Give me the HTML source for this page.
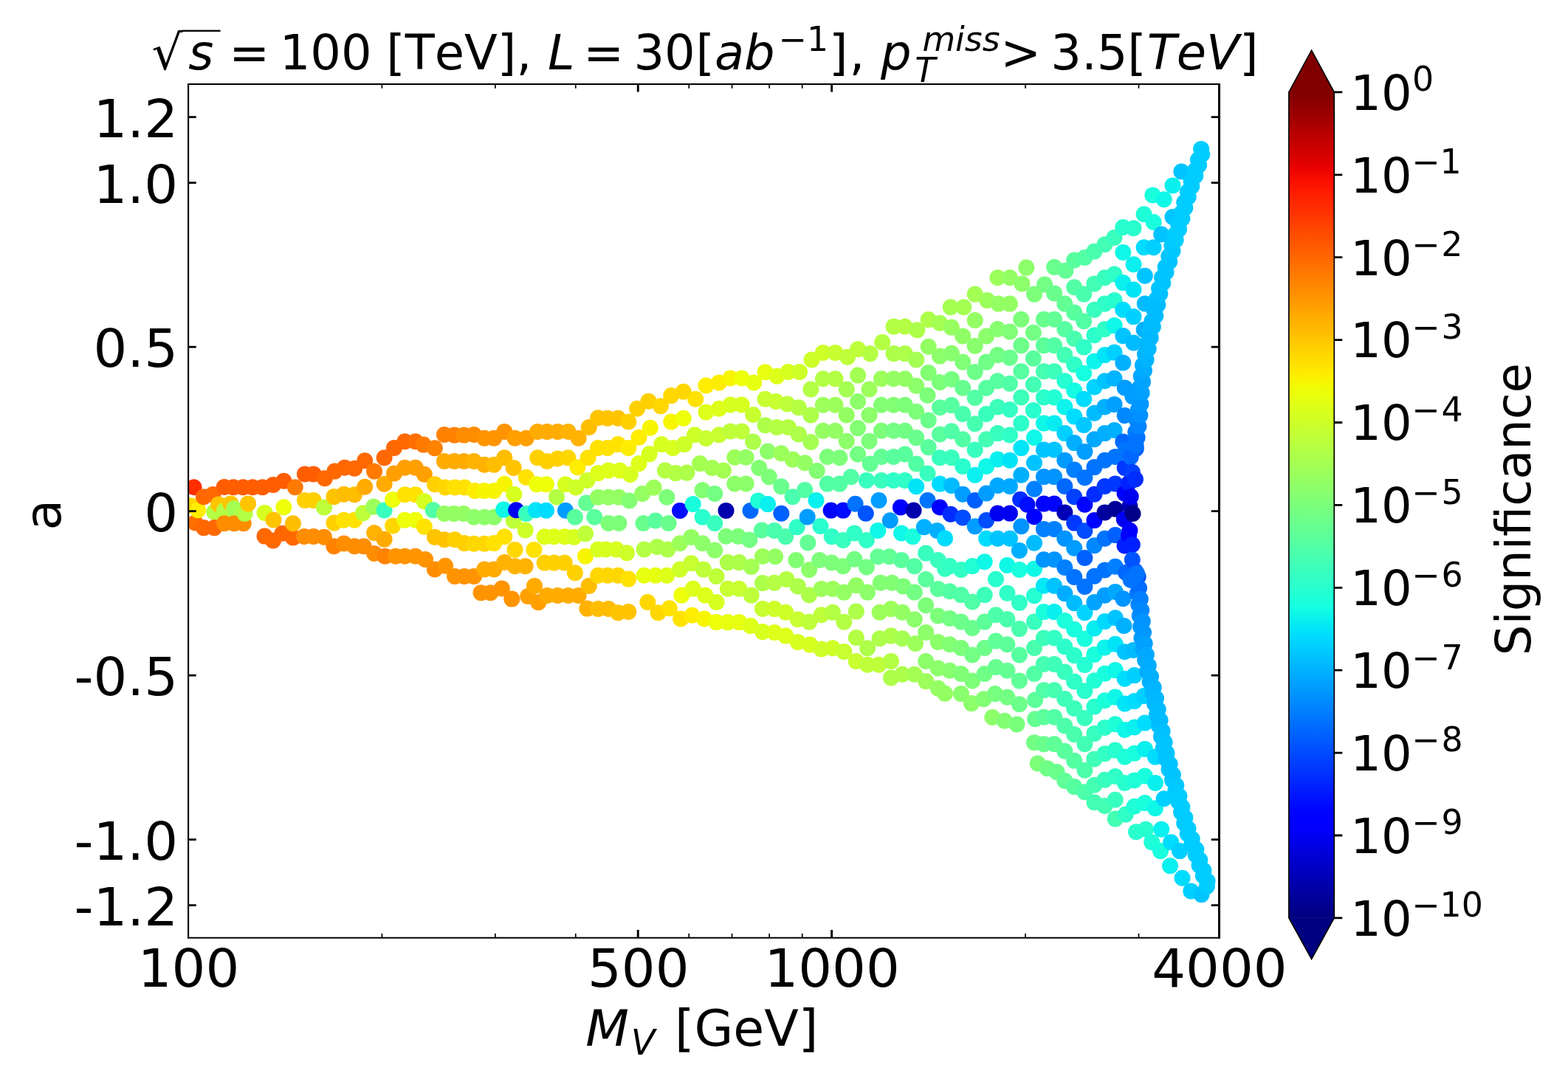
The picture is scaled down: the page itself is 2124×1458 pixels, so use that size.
<!DOCTYPE html>
<html lang="en"><head><meta charset="utf-8"><title>Significance scan</title>
<style>html,body{margin:0;padding:0;background:#fff;}body{width:2124px;height:1458px;overflow:hidden;}svg{display:block;}text{font-family:"DejaVu Sans","Liberation Sans",sans-serif;fill:#000;font-kerning:none;}.i{font-style:oblique;}</style>
</head><body>
<svg xmlns="http://www.w3.org/2000/svg" width="2124" height="1458" viewBox="0 0 2124 1458">
<rect width="2124" height="1458" fill="#fff"/>
<clipPath id="ac"><rect x="255.00" y="113.90" width="1396.40" height="1156.90"/></clipPath>
<g id="pts" clip-path="url(#ac)">
<circle cx="695.7" cy="705.4" r="11.0" fill="#beff39"/>
<circle cx="258.6" cy="685.3" r="11.0" fill="#ffd700"/>
<circle cx="262.5" cy="660.3" r="11.0" fill="#ff2d00"/>
<circle cx="264.4" cy="708.4" r="11.0" fill="#ff6f00"/>
<circle cx="268.2" cy="691.1" r="11.0" fill="#feed00"/>
<circle cx="275.9" cy="673.3" r="11.0" fill="#ff6800"/>
<circle cx="275.9" cy="715.1" r="11.0" fill="#ff6800"/>
<circle cx="288.4" cy="669.9" r="11.0" fill="#ff6800"/>
<circle cx="290.3" cy="693.9" r="11.0" fill="#b4ff43"/>
<circle cx="290.3" cy="715.1" r="11.0" fill="#ff6800"/>
<circle cx="296.1" cy="683.4" r="11.0" fill="#ffc400"/>
<circle cx="303.8" cy="692.0" r="11.0" fill="#b4ff43"/>
<circle cx="303.8" cy="659.9" r="11.0" fill="#ff5d00"/>
<circle cx="303.8" cy="709.3" r="11.0" fill="#ff8d00"/>
<circle cx="312.4" cy="682.4" r="11.0" fill="#ffc400"/>
<circle cx="316.3" cy="660.3" r="11.0" fill="#ff5d00"/>
<circle cx="317.2" cy="689.1" r="11.0" fill="#a4ff53"/>
<circle cx="317.2" cy="709.3" r="11.0" fill="#ff8d00"/>
<circle cx="329.2" cy="660.3" r="11.0" fill="#ff5d00"/>
<circle cx="329.7" cy="709.3" r="11.0" fill="#ff8d00"/>
<circle cx="331.6" cy="695.9" r="11.0" fill="#b4ff43"/>
<circle cx="342.2" cy="660.3" r="11.0" fill="#ff5d00"/>
<circle cx="355.6" cy="660.3" r="11.0" fill="#ff5d00"/>
<circle cx="358.5" cy="694.9" r="11.0" fill="#d7ff1f"/>
<circle cx="358.5" cy="726.6" r="11.0" fill="#ff6800"/>
<circle cx="370.0" cy="657.0" r="11.0" fill="#ff5d00"/>
<circle cx="370.0" cy="732.4" r="11.0" fill="#ff6800"/>
<circle cx="382.5" cy="722.8" r="11.0" fill="#ff6800"/>
<circle cx="384.4" cy="651.7" r="11.0" fill="#ff5d00"/>
<circle cx="384.4" cy="687.2" r="11.0" fill="#eeff09"/>
<circle cx="396.9" cy="728.5" r="11.0" fill="#ff6800"/>
<circle cx="396.9" cy="709.3" r="11.0" fill="#ffbd00"/>
<circle cx="399.8" cy="660.3" r="11.0" fill="#ff7a00"/>
<circle cx="412.1" cy="726.9" r="11.0" fill="#ff8d00"/>
<circle cx="413.0" cy="642.4" r="11.0" fill="#ff5d00"/>
<circle cx="413.0" cy="677.9" r="11.0" fill="#ffd000"/>
<circle cx="424.6" cy="642.4" r="11.0" fill="#ff5d00"/>
<circle cx="424.6" cy="677.9" r="11.0" fill="#ffd000"/>
<circle cx="424.6" cy="726.9" r="11.0" fill="#ff8d00"/>
<circle cx="439.0" cy="687.5" r="11.0" fill="#beff39"/>
<circle cx="439.0" cy="727.8" r="11.0" fill="#ff8d00"/>
<circle cx="439.9" cy="648.2" r="11.0" fill="#ff6800"/>
<circle cx="452.4" cy="673.1" r="11.0" fill="#ffc400"/>
<circle cx="452.4" cy="708.6" r="11.0" fill="#ffd000"/>
<circle cx="452.4" cy="740.3" r="11.0" fill="#ff8200"/>
<circle cx="453.4" cy="638.6" r="11.0" fill="#ff6800"/>
<circle cx="465.8" cy="669.8" r="11.0" fill="#ffbd00"/>
<circle cx="465.8" cy="704.8" r="11.0" fill="#ffe200"/>
<circle cx="465.8" cy="736.5" r="11.0" fill="#ff8d00"/>
<circle cx="466.8" cy="633.8" r="11.0" fill="#ff6800"/>
<circle cx="480.2" cy="634.7" r="11.0" fill="#ff6800"/>
<circle cx="480.2" cy="670.2" r="11.0" fill="#ffbd00"/>
<circle cx="480.2" cy="704.8" r="11.0" fill="#ffe200"/>
<circle cx="480.2" cy="740.3" r="11.0" fill="#ff8d00"/>
<circle cx="491.8" cy="695.2" r="11.0" fill="#beff39"/>
<circle cx="492.7" cy="740.3" r="11.0" fill="#ff8d00"/>
<circle cx="494.2" cy="624.2" r="11.0" fill="#ff6800"/>
<circle cx="494.2" cy="659.7" r="11.0" fill="#ffab00"/>
<circle cx="506.2" cy="686.6" r="11.0" fill="#9dff5a"/>
<circle cx="507.1" cy="638.6" r="11.0" fill="#ff7a00"/>
<circle cx="507.1" cy="722.1" r="11.0" fill="#ffb200"/>
<circle cx="507.1" cy="749.9" r="11.0" fill="#ff8d00"/>
<circle cx="520.6" cy="620.3" r="11.0" fill="#ff6800"/>
<circle cx="520.6" cy="655.8" r="11.0" fill="#ffab00"/>
<circle cx="520.6" cy="691.4" r="11.0" fill="#39ffbe"/>
<circle cx="520.6" cy="730.7" r="11.0" fill="#ffab00"/>
<circle cx="521.5" cy="753.8" r="11.0" fill="#ff8200"/>
<circle cx="532.1" cy="677.0" r="11.0" fill="#eeff09"/>
<circle cx="532.1" cy="712.5" r="11.0" fill="#ffd700"/>
<circle cx="534.0" cy="606.9" r="11.0" fill="#ff6800"/>
<circle cx="534.0" cy="641.4" r="11.0" fill="#ff9f00"/>
<circle cx="535.9" cy="753.8" r="11.0" fill="#ff9400"/>
<circle cx="548.4" cy="598.2" r="11.0" fill="#ff6800"/>
<circle cx="548.4" cy="633.8" r="11.0" fill="#ff9f00"/>
<circle cx="548.4" cy="670.2" r="11.0" fill="#ffe200"/>
<circle cx="548.4" cy="704.8" r="11.0" fill="#eeff09"/>
<circle cx="548.4" cy="753.8" r="11.0" fill="#ff9400"/>
<circle cx="562.8" cy="598.2" r="11.0" fill="#ff6f00"/>
<circle cx="562.8" cy="633.8" r="11.0" fill="#ff9f00"/>
<circle cx="562.8" cy="670.2" r="11.0" fill="#ffe200"/>
<circle cx="562.8" cy="704.8" r="11.0" fill="#eeff09"/>
<circle cx="562.8" cy="753.8" r="11.0" fill="#ff9400"/>
<circle cx="573.6" cy="602.6" r="11.0" fill="#ff7a00"/>
<circle cx="574.8" cy="642.7" r="11.0" fill="#ff9f00"/>
<circle cx="574.8" cy="679.3" r="11.0" fill="#d7ff1f"/>
<circle cx="574.8" cy="713.7" r="11.0" fill="#ffe200"/>
<circle cx="576.0" cy="757.9" r="11.0" fill="#ff9400"/>
<circle cx="586.6" cy="691.2" r="11.0" fill="#53ffa4"/>
<circle cx="588.9" cy="607.3" r="11.0" fill="#ff8200"/>
<circle cx="588.9" cy="656.3" r="11.0" fill="#ffd000"/>
<circle cx="588.9" cy="727.8" r="11.0" fill="#ffc400"/>
<circle cx="588.9" cy="771.5" r="11.0" fill="#ff8d00"/>
<circle cx="601.9" cy="589.0" r="11.0" fill="#ff8200"/>
<circle cx="601.9" cy="625.0" r="11.0" fill="#ffab00"/>
<circle cx="601.9" cy="696.0" r="11.0" fill="#94ff63"/>
<circle cx="601.9" cy="731.3" r="11.0" fill="#ffc400"/>
<circle cx="603.1" cy="660.4" r="11.0" fill="#ffd700"/>
<circle cx="603.1" cy="766.7" r="11.0" fill="#ff9400"/>
<circle cx="614.9" cy="696.0" r="11.0" fill="#94ff63"/>
<circle cx="615.5" cy="589.6" r="11.0" fill="#ff8200"/>
<circle cx="615.5" cy="625.0" r="11.0" fill="#ffab00"/>
<circle cx="616.1" cy="660.4" r="11.0" fill="#ffe200"/>
<circle cx="616.1" cy="731.3" r="11.0" fill="#ffd000"/>
<circle cx="616.1" cy="780.9" r="11.0" fill="#ff9400"/>
<circle cx="627.9" cy="696.0" r="11.0" fill="#94ff63"/>
<circle cx="628.5" cy="589.6" r="11.0" fill="#ff8d00"/>
<circle cx="628.5" cy="625.0" r="11.0" fill="#ffab00"/>
<circle cx="629.0" cy="660.4" r="11.0" fill="#ffe200"/>
<circle cx="629.0" cy="736.1" r="11.0" fill="#ffd000"/>
<circle cx="629.0" cy="780.9" r="11.0" fill="#ff9400"/>
<circle cx="642.0" cy="589.0" r="11.0" fill="#ff8d00"/>
<circle cx="642.0" cy="625.0" r="11.0" fill="#ffb200"/>
<circle cx="642.0" cy="700.7" r="11.0" fill="#8dff6a"/>
<circle cx="642.0" cy="736.7" r="11.0" fill="#ffd700"/>
<circle cx="642.0" cy="780.9" r="11.0" fill="#ff9400"/>
<circle cx="643.2" cy="665.1" r="11.0" fill="#feed00"/>
<circle cx="651.5" cy="803.3" r="11.0" fill="#ff9400"/>
<circle cx="656.2" cy="593.7" r="11.0" fill="#ff9400"/>
<circle cx="656.2" cy="629.7" r="11.0" fill="#ffb200"/>
<circle cx="656.2" cy="665.1" r="11.0" fill="#f8f500"/>
<circle cx="656.2" cy="700.7" r="11.0" fill="#8dff6a"/>
<circle cx="656.2" cy="736.7" r="11.0" fill="#ffd700"/>
<circle cx="656.2" cy="771.5" r="11.0" fill="#ffab00"/>
<circle cx="664.4" cy="803.3" r="11.0" fill="#ff9400"/>
<circle cx="669.2" cy="593.7" r="11.0" fill="#ff9400"/>
<circle cx="669.2" cy="629.7" r="11.0" fill="#ffbd00"/>
<circle cx="669.2" cy="665.1" r="11.0" fill="#f8f500"/>
<circle cx="669.2" cy="700.7" r="11.0" fill="#8dff6a"/>
<circle cx="669.2" cy="736.1" r="11.0" fill="#ffe200"/>
<circle cx="669.2" cy="771.5" r="11.0" fill="#ffab00"/>
<circle cx="679.8" cy="797.4" r="11.0" fill="#ff9400"/>
<circle cx="682.1" cy="690.6" r="11.0" fill="#0ff8e7"/>
<circle cx="683.3" cy="584.9" r="11.0" fill="#ff9400"/>
<circle cx="683.3" cy="620.3" r="11.0" fill="#ffbd00"/>
<circle cx="683.3" cy="655.7" r="11.0" fill="#f8f500"/>
<circle cx="683.3" cy="727.2" r="11.0" fill="#ffe200"/>
<circle cx="683.3" cy="762.0" r="11.0" fill="#ffb200"/>
<circle cx="693.3" cy="811.6" r="11.0" fill="#ff9400"/>
<circle cx="695.7" cy="633.9" r="11.0" fill="#ffc400"/>
<circle cx="696.3" cy="669.8" r="11.0" fill="#d7ff1f"/>
<circle cx="697.5" cy="593.7" r="11.0" fill="#ff9f00"/>
<circle cx="697.5" cy="744.9" r="11.0" fill="#ffd700"/>
<circle cx="697.5" cy="767.3" r="11.0" fill="#ffb200"/>
<circle cx="699.2" cy="691.2" r="11.0" fill="#0000f1"/>
<circle cx="711.6" cy="718.4" r="11.0" fill="#ceff29"/>
<circle cx="711.6" cy="767.3" r="11.0" fill="#ffb200"/>
<circle cx="712.8" cy="593.7" r="11.0" fill="#ff9f00"/>
<circle cx="712.8" cy="646.8" r="11.0" fill="#ffe200"/>
<circle cx="712.8" cy="696.0" r="11.0" fill="#39ffbe"/>
<circle cx="715.2" cy="808.0" r="11.0" fill="#ff9f00"/>
<circle cx="723.4" cy="744.9" r="11.0" fill="#ffe200"/>
<circle cx="725.8" cy="691.2" r="11.0" fill="#00e4f8"/>
<circle cx="727.0" cy="656.3" r="11.0" fill="#eeff09"/>
<circle cx="728.2" cy="584.9" r="11.0" fill="#ffab00"/>
<circle cx="728.2" cy="620.3" r="11.0" fill="#ffd000"/>
<circle cx="729.3" cy="816.3" r="11.0" fill="#ff9f00"/>
<circle cx="737.6" cy="727.2" r="11.0" fill="#deff19"/>
<circle cx="737.6" cy="762.6" r="11.0" fill="#ffd000"/>
<circle cx="739.9" cy="656.3" r="11.0" fill="#eeff09"/>
<circle cx="739.9" cy="691.8" r="11.0" fill="#00dcfe"/>
<circle cx="741.1" cy="584.9" r="11.0" fill="#ffab00"/>
<circle cx="741.1" cy="625.0" r="11.0" fill="#ffd000"/>
<circle cx="741.1" cy="806.9" r="11.0" fill="#ffab00"/>
<circle cx="750.6" cy="727.2" r="11.0" fill="#deff19"/>
<circle cx="750.6" cy="762.6" r="11.0" fill="#ffd000"/>
<circle cx="754.1" cy="673.4" r="11.0" fill="#b4ff43"/>
<circle cx="755.3" cy="584.9" r="11.0" fill="#ffab00"/>
<circle cx="755.3" cy="621.5" r="11.0" fill="#ffd000"/>
<circle cx="755.3" cy="806.9" r="11.0" fill="#ffab00"/>
<circle cx="764.7" cy="727.2" r="11.0" fill="#deff19"/>
<circle cx="764.7" cy="762.6" r="11.0" fill="#ffd000"/>
<circle cx="765.9" cy="656.3" r="11.0" fill="#d7ff1f"/>
<circle cx="765.9" cy="691.8" r="11.0" fill="#009cff"/>
<circle cx="769.4" cy="584.9" r="11.0" fill="#ffb200"/>
<circle cx="769.4" cy="620.3" r="11.0" fill="#ffd700"/>
<circle cx="769.4" cy="806.9" r="11.0" fill="#ffab00"/>
<circle cx="777.7" cy="727.8" r="11.0" fill="#d7ff1f"/>
<circle cx="778.9" cy="700.7" r="11.0" fill="#5aff9d"/>
<circle cx="778.9" cy="776.2" r="11.0" fill="#ffd000"/>
<circle cx="780.1" cy="660.4" r="11.0" fill="#ceff29"/>
<circle cx="782.4" cy="633.3" r="11.0" fill="#feed00"/>
<circle cx="783.6" cy="593.7" r="11.0" fill="#ffb200"/>
<circle cx="783.6" cy="806.9" r="11.0" fill="#ffab00"/>
<circle cx="793.0" cy="723.1" r="11.0" fill="#beff39"/>
<circle cx="793.0" cy="753.8" r="11.0" fill="#f8f500"/>
<circle cx="794.2" cy="681.6" r="11.0" fill="#63ff94"/>
<circle cx="795.4" cy="651.0" r="11.0" fill="#ceff29"/>
<circle cx="795.4" cy="824.6" r="11.0" fill="#ffb200"/>
<circle cx="796.6" cy="620.3" r="11.0" fill="#ffe200"/>
<circle cx="797.8" cy="579.0" r="11.0" fill="#ffbd00"/>
<circle cx="797.8" cy="793.9" r="11.0" fill="#ffbd00"/>
<circle cx="805.3" cy="700.8" r="11.0" fill="#5aff9d"/>
<circle cx="810.1" cy="566.2" r="11.0" fill="#ffc400"/>
<circle cx="810.1" cy="606.9" r="11.0" fill="#ffe200"/>
<circle cx="810.1" cy="641.1" r="11.0" fill="#deff19"/>
<circle cx="810.1" cy="673.7" r="11.0" fill="#94ff63"/>
<circle cx="810.1" cy="744.4" r="11.0" fill="#d7ff1f"/>
<circle cx="810.1" cy="779.8" r="11.0" fill="#ffd700"/>
<circle cx="810.1" cy="824.9" r="11.0" fill="#ffbd00"/>
<circle cx="820.7" cy="744.4" r="11.0" fill="#d7ff1f"/>
<circle cx="823.0" cy="566.7" r="11.0" fill="#ffc400"/>
<circle cx="823.0" cy="606.9" r="11.0" fill="#ffe200"/>
<circle cx="823.0" cy="779.8" r="11.0" fill="#ffd700"/>
<circle cx="824.2" cy="637.5" r="11.0" fill="#deff19"/>
<circle cx="824.2" cy="673.7" r="11.0" fill="#94ff63"/>
<circle cx="824.2" cy="709.0" r="11.0" fill="#7dff7a"/>
<circle cx="824.2" cy="824.9" r="11.0" fill="#ffbd00"/>
<circle cx="834.8" cy="744.4" r="11.0" fill="#d7ff1f"/>
<circle cx="837.2" cy="566.7" r="11.0" fill="#ffc400"/>
<circle cx="837.2" cy="602.1" r="11.0" fill="#ffe200"/>
<circle cx="837.2" cy="779.8" r="11.0" fill="#ffd700"/>
<circle cx="837.2" cy="830.2" r="11.0" fill="#ffc400"/>
<circle cx="838.4" cy="673.7" r="11.0" fill="#94ff63"/>
<circle cx="838.4" cy="709.0" r="11.0" fill="#7dff7a"/>
<circle cx="839.6" cy="637.5" r="11.0" fill="#deff19"/>
<circle cx="849.0" cy="749.2" r="11.0" fill="#ceff29"/>
<circle cx="851.3" cy="571.5" r="11.0" fill="#ffd000"/>
<circle cx="851.3" cy="606.9" r="11.0" fill="#feed00"/>
<circle cx="851.3" cy="784.6" r="11.0" fill="#ffe200"/>
<circle cx="851.3" cy="829.0" r="11.0" fill="#ffc400"/>
<circle cx="852.5" cy="678.4" r="11.0" fill="#83ff73"/>
<circle cx="853.7" cy="643.0" r="11.0" fill="#d7ff1f"/>
<circle cx="863.1" cy="553.8" r="11.0" fill="#ffd000"/>
<circle cx="865.5" cy="592.7" r="11.0" fill="#feed00"/>
<circle cx="865.5" cy="628.1" r="11.0" fill="#deff19"/>
<circle cx="870.2" cy="668.9" r="11.0" fill="#94ff63"/>
<circle cx="871.4" cy="709.0" r="11.0" fill="#6aff8d"/>
<circle cx="872.6" cy="744.4" r="11.0" fill="#b4ff43"/>
<circle cx="872.6" cy="779.8" r="11.0" fill="#e7ff0f"/>
<circle cx="877.3" cy="816.0" r="11.0" fill="#ffd700"/>
<circle cx="878.5" cy="543.7" r="11.0" fill="#ffd000"/>
<circle cx="879.7" cy="615.1" r="11.0" fill="#d7ff1f"/>
<circle cx="880.8" cy="579.7" r="11.0" fill="#f8f500"/>
<circle cx="885.6" cy="660.7" r="11.0" fill="#9dff5a"/>
<circle cx="887.9" cy="705.5" r="11.0" fill="#5aff9d"/>
<circle cx="887.9" cy="779.8" r="11.0" fill="#e7ff0f"/>
<circle cx="890.3" cy="740.9" r="11.0" fill="#adff49"/>
<circle cx="891.5" cy="830.2" r="11.0" fill="#ffd700"/>
<circle cx="895.0" cy="550.2" r="11.0" fill="#ffd700"/>
<circle cx="896.2" cy="602.1" r="11.0" fill="#d7ff1f"/>
<circle cx="900.9" cy="637.5" r="11.0" fill="#b4ff43"/>
<circle cx="903.3" cy="673.7" r="11.0" fill="#7dff7a"/>
<circle cx="903.3" cy="779.8" r="11.0" fill="#deff19"/>
<circle cx="904.4" cy="744.4" r="11.0" fill="#adff49"/>
<circle cx="905.6" cy="709.0" r="11.0" fill="#6aff8d"/>
<circle cx="906.8" cy="824.3" r="11.0" fill="#ffe200"/>
<circle cx="909.2" cy="536.1" r="11.0" fill="#ffd700"/>
<circle cx="909.2" cy="571.5" r="11.0" fill="#f8f500"/>
<circle cx="911.5" cy="606.9" r="11.0" fill="#d7ff1f"/>
<circle cx="915.1" cy="641.1" r="11.0" fill="#b4ff43"/>
<circle cx="921.0" cy="691.9" r="11.0" fill="#000cff"/>
<circle cx="921.0" cy="736.2" r="11.0" fill="#9dff5a"/>
<circle cx="921.0" cy="771.6" r="11.0" fill="#ceff29"/>
<circle cx="922.1" cy="838.4" r="11.0" fill="#ffe200"/>
<circle cx="923.3" cy="806.6" r="11.0" fill="#eeff09"/>
<circle cx="925.7" cy="530.8" r="11.0" fill="#ffd700"/>
<circle cx="925.7" cy="566.7" r="11.0" fill="#eeff09"/>
<circle cx="926.9" cy="602.1" r="11.0" fill="#ceff29"/>
<circle cx="930.4" cy="640.6" r="11.0" fill="#adff49"/>
<circle cx="936.3" cy="727.9" r="11.0" fill="#94ff63"/>
<circle cx="936.3" cy="763.3" r="11.0" fill="#c7ff30"/>
<circle cx="937.5" cy="833.7" r="11.0" fill="#feed00"/>
<circle cx="938.7" cy="683.1" r="11.0" fill="#19ffde"/>
<circle cx="938.7" cy="797.7" r="11.0" fill="#deff19"/>
<circle cx="941.0" cy="589.2" r="11.0" fill="#ceff29"/>
<circle cx="942.2" cy="540.8" r="11.0" fill="#ffe200"/>
<circle cx="948.1" cy="628.1" r="11.0" fill="#a4ff53"/>
<circle cx="951.6" cy="664.2" r="11.0" fill="#83ff73"/>
<circle cx="951.6" cy="700.8" r="11.0" fill="#29ffce"/>
<circle cx="951.6" cy="736.2" r="11.0" fill="#8dff6a"/>
<circle cx="952.8" cy="771.6" r="11.0" fill="#beff39"/>
<circle cx="954.0" cy="838.4" r="11.0" fill="#f8f500"/>
<circle cx="955.2" cy="806.6" r="11.0" fill="#deff19"/>
<circle cx="956.4" cy="522.5" r="11.0" fill="#feed00"/>
<circle cx="956.4" cy="558.5" r="11.0" fill="#deff19"/>
<circle cx="956.4" cy="593.9" r="11.0" fill="#c7ff30"/>
<circle cx="964.6" cy="634.0" r="11.0" fill="#a4ff53"/>
<circle cx="968.2" cy="668.9" r="11.0" fill="#73ff83"/>
<circle cx="968.2" cy="709.0" r="11.0" fill="#39ffbe"/>
<circle cx="968.2" cy="745.6" r="11.0" fill="#8dff6a"/>
<circle cx="970.5" cy="781.0" r="11.0" fill="#beff39"/>
<circle cx="970.5" cy="816.0" r="11.0" fill="#d7ff1f"/>
<circle cx="970.5" cy="843.1" r="11.0" fill="#eeff09"/>
<circle cx="974.0" cy="518.4" r="11.0" fill="#feed00"/>
<circle cx="974.0" cy="553.8" r="11.0" fill="#deff19"/>
<circle cx="974.0" cy="589.2" r="11.0" fill="#c7ff30"/>
<circle cx="979.9" cy="637.5" r="11.0" fill="#a4ff53"/>
<circle cx="983.5" cy="691.9" r="11.0" fill="#0000ad"/>
<circle cx="983.5" cy="726.7" r="11.0" fill="#7dff7a"/>
<circle cx="985.8" cy="762.1" r="11.0" fill="#adff49"/>
<circle cx="985.8" cy="797.7" r="11.0" fill="#c7ff30"/>
<circle cx="985.8" cy="843.1" r="11.0" fill="#e7ff0f"/>
<circle cx="989.4" cy="512.5" r="11.0" fill="#f8f500"/>
<circle cx="989.4" cy="548.5" r="11.0" fill="#d7ff1f"/>
<circle cx="989.4" cy="584.4" r="11.0" fill="#beff39"/>
<circle cx="995.3" cy="619.8" r="11.0" fill="#9dff5a"/>
<circle cx="995.3" cy="655.4" r="11.0" fill="#8dff6a"/>
<circle cx="1000.0" cy="726.7" r="11.0" fill="#7dff7a"/>
<circle cx="1001.2" cy="762.1" r="11.0" fill="#adff49"/>
<circle cx="1001.2" cy="797.7" r="11.0" fill="#c7ff30"/>
<circle cx="1001.2" cy="843.1" r="11.0" fill="#e7ff0f"/>
<circle cx="1004.7" cy="512.5" r="11.0" fill="#eeff09"/>
<circle cx="1004.7" cy="548.5" r="11.0" fill="#d7ff1f"/>
<circle cx="1004.7" cy="584.4" r="11.0" fill="#beff39"/>
<circle cx="1010.6" cy="619.8" r="11.0" fill="#94ff63"/>
<circle cx="1010.6" cy="655.4" r="11.0" fill="#8dff6a"/>
<circle cx="1015.3" cy="731.5" r="11.0" fill="#73ff83"/>
<circle cx="1016.5" cy="691.9" r="11.0" fill="#0068ff"/>
<circle cx="1016.5" cy="847.9" r="11.0" fill="#deff19"/>
<circle cx="1017.7" cy="768.0" r="11.0" fill="#a4ff53"/>
<circle cx="1017.7" cy="806.6" r="11.0" fill="#beff39"/>
<circle cx="1020.1" cy="562.0" r="11.0" fill="#c7ff30"/>
<circle cx="1020.1" cy="598.6" r="11.0" fill="#adff49"/>
<circle cx="1021.2" cy="518.4" r="11.0" fill="#e7ff0f"/>
<circle cx="1027.1" cy="678.4" r="11.0" fill="#1fffd7"/>
<circle cx="1028.3" cy="634.0" r="11.0" fill="#83ff73"/>
<circle cx="1031.9" cy="718.5" r="11.0" fill="#5aff9d"/>
<circle cx="1033.0" cy="753.9" r="11.0" fill="#9dff5a"/>
<circle cx="1033.0" cy="790.1" r="11.0" fill="#adff49"/>
<circle cx="1033.0" cy="856.1" r="11.0" fill="#d7ff1f"/>
<circle cx="1033.0" cy="824.9" r="11.0" fill="#c7ff30"/>
<circle cx="1036.6" cy="504.2" r="11.0" fill="#e7ff0f"/>
<circle cx="1036.6" cy="540.8" r="11.0" fill="#c7ff30"/>
<circle cx="1036.6" cy="576.2" r="11.0" fill="#adff49"/>
<circle cx="1040.0" cy="611.6" r="11.0" fill="#8dff6a"/>
<circle cx="1040.0" cy="683.1" r="11.0" fill="#09f0ee"/>
<circle cx="1041.8" cy="646.2" r="11.0" fill="#7dff7a"/>
<circle cx="1048.9" cy="718.9" r="11.0" fill="#49ffad"/>
<circle cx="1048.9" cy="789.7" r="11.0" fill="#b4ff43"/>
<circle cx="1048.9" cy="825.1" r="11.0" fill="#ceff29"/>
<circle cx="1048.9" cy="856.9" r="11.0" fill="#deff19"/>
<circle cx="1050.1" cy="754.3" r="11.0" fill="#94ff63"/>
<circle cx="1051.2" cy="544.0" r="11.0" fill="#c7ff30"/>
<circle cx="1052.4" cy="509.8" r="11.0" fill="#deff19"/>
<circle cx="1052.4" cy="578.9" r="11.0" fill="#b4ff43"/>
<circle cx="1058.3" cy="614.3" r="11.0" fill="#9dff5a"/>
<circle cx="1058.3" cy="659.2" r="11.0" fill="#6aff8d"/>
<circle cx="1058.3" cy="695.7" r="11.0" fill="#0060ff"/>
<circle cx="1064.2" cy="727.1" r="11.0" fill="#49ffad"/>
<circle cx="1064.2" cy="829.8" r="11.0" fill="#ceff29"/>
<circle cx="1064.2" cy="861.6" r="11.0" fill="#deff19"/>
<circle cx="1065.4" cy="784.9" r="11.0" fill="#b4ff43"/>
<circle cx="1066.6" cy="547.5" r="11.0" fill="#beff39"/>
<circle cx="1067.8" cy="503.9" r="11.0" fill="#d7ff1f"/>
<circle cx="1067.8" cy="578.9" r="11.0" fill="#b4ff43"/>
<circle cx="1073.7" cy="622.6" r="11.0" fill="#9dff5a"/>
<circle cx="1073.7" cy="673.3" r="11.0" fill="#49ffad"/>
<circle cx="1078.4" cy="759.0" r="11.0" fill="#83ff73"/>
<circle cx="1079.6" cy="714.2" r="11.0" fill="#30ffc7"/>
<circle cx="1080.7" cy="794.4" r="11.0" fill="#adff49"/>
<circle cx="1080.7" cy="839.2" r="11.0" fill="#c7ff30"/>
<circle cx="1080.7" cy="869.9" r="11.0" fill="#d7ff1f"/>
<circle cx="1081.9" cy="552.3" r="11.0" fill="#b4ff43"/>
<circle cx="1081.9" cy="588.4" r="11.0" fill="#adff49"/>
<circle cx="1083.1" cy="503.9" r="11.0" fill="#ceff29"/>
<circle cx="1090.2" cy="627.3" r="11.0" fill="#94ff63"/>
<circle cx="1090.2" cy="663.9" r="11.0" fill="#53ffa4"/>
<circle cx="1093.7" cy="700.5" r="11.0" fill="#009cff"/>
<circle cx="1094.3" cy="735.4" r="11.0" fill="#63ff94"/>
<circle cx="1096.1" cy="772.0" r="11.0" fill="#8dff6a"/>
<circle cx="1096.1" cy="806.2" r="11.0" fill="#adff49"/>
<circle cx="1096.1" cy="842.8" r="11.0" fill="#beff39"/>
<circle cx="1097.2" cy="873.6" r="11.0" fill="#d7ff1f"/>
<circle cx="1098.4" cy="527.5" r="11.0" fill="#b4ff43"/>
<circle cx="1098.4" cy="562.4" r="11.0" fill="#adff49"/>
<circle cx="1098.4" cy="599.0" r="11.0" fill="#a4ff53"/>
<circle cx="1099.6" cy="487.4" r="11.0" fill="#ceff29"/>
<circle cx="1105.5" cy="678.0" r="11.0" fill="#09f0ee"/>
<circle cx="1106.7" cy="637.9" r="11.0" fill="#83ff73"/>
<circle cx="1110.2" cy="759.0" r="11.0" fill="#7dff7a"/>
<circle cx="1111.4" cy="713.0" r="11.0" fill="#29ffce"/>
<circle cx="1112.6" cy="797.9" r="11.0" fill="#9dff5a"/>
<circle cx="1112.6" cy="833.3" r="11.0" fill="#beff39"/>
<circle cx="1112.6" cy="879.5" r="11.0" fill="#ceff29"/>
<circle cx="1114.9" cy="477.9" r="11.0" fill="#ceff29"/>
<circle cx="1114.9" cy="513.3" r="11.0" fill="#b4ff43"/>
<circle cx="1114.9" cy="548.7" r="11.0" fill="#9dff5a"/>
<circle cx="1114.9" cy="583.7" r="11.0" fill="#94ff63"/>
<circle cx="1120.8" cy="619.0" r="11.0" fill="#7dff7a"/>
<circle cx="1120.8" cy="655.6" r="11.0" fill="#53ffa4"/>
<circle cx="1125.6" cy="691.6" r="11.0" fill="#0004ff"/>
<circle cx="1126.7" cy="727.1" r="11.0" fill="#30ffc7"/>
<circle cx="1126.7" cy="762.5" r="11.0" fill="#7dff7a"/>
<circle cx="1127.9" cy="797.9" r="11.0" fill="#9dff5a"/>
<circle cx="1127.9" cy="829.8" r="11.0" fill="#b4ff43"/>
<circle cx="1127.9" cy="878.3" r="11.0" fill="#ceff29"/>
<circle cx="1131.5" cy="477.9" r="11.0" fill="#c7ff30"/>
<circle cx="1131.5" cy="513.3" r="11.0" fill="#b4ff43"/>
<circle cx="1131.5" cy="548.7" r="11.0" fill="#9dff5a"/>
<circle cx="1131.5" cy="583.7" r="11.0" fill="#94ff63"/>
<circle cx="1137.4" cy="620.2" r="11.0" fill="#7dff7a"/>
<circle cx="1137.4" cy="655.6" r="11.0" fill="#53ffa4"/>
<circle cx="1142.1" cy="691.6" r="11.0" fill="#000cff"/>
<circle cx="1142.1" cy="731.9" r="11.0" fill="#39ffbe"/>
<circle cx="1142.1" cy="767.2" r="11.0" fill="#7dff7a"/>
<circle cx="1143.3" cy="802.6" r="11.0" fill="#94ff63"/>
<circle cx="1143.3" cy="842.8" r="11.0" fill="#b4ff43"/>
<circle cx="1143.3" cy="883.0" r="11.0" fill="#c7ff30"/>
<circle cx="1146.8" cy="527.5" r="11.0" fill="#a4ff53"/>
<circle cx="1146.8" cy="562.4" r="11.0" fill="#94ff63"/>
<circle cx="1146.8" cy="597.8" r="11.0" fill="#8dff6a"/>
<circle cx="1148.0" cy="483.8" r="11.0" fill="#beff39"/>
<circle cx="1152.7" cy="646.2" r="11.0" fill="#53ffa4"/>
<circle cx="1157.4" cy="722.4" r="11.0" fill="#30ffc7"/>
<circle cx="1157.4" cy="757.8" r="11.0" fill="#73ff83"/>
<circle cx="1158.6" cy="682.8" r="11.0" fill="#0074ff"/>
<circle cx="1159.8" cy="793.2" r="11.0" fill="#94ff63"/>
<circle cx="1159.8" cy="828.6" r="11.0" fill="#adff49"/>
<circle cx="1159.8" cy="864.0" r="11.0" fill="#b4ff43"/>
<circle cx="1159.8" cy="896.0" r="11.0" fill="#c7ff30"/>
<circle cx="1162.1" cy="473.2" r="11.0" fill="#beff39"/>
<circle cx="1162.1" cy="508.6" r="11.0" fill="#a4ff53"/>
<circle cx="1162.1" cy="544.0" r="11.0" fill="#8dff6a"/>
<circle cx="1162.1" cy="580.1" r="11.0" fill="#83ff73"/>
<circle cx="1162.1" cy="615.5" r="11.0" fill="#73ff83"/>
<circle cx="1172.8" cy="695.7" r="11.0" fill="#0054ff"/>
<circle cx="1173.9" cy="650.9" r="11.0" fill="#39ffbe"/>
<circle cx="1173.9" cy="731.9" r="11.0" fill="#30ffc7"/>
<circle cx="1173.9" cy="768.4" r="11.0" fill="#73ff83"/>
<circle cx="1175.1" cy="802.6" r="11.0" fill="#8dff6a"/>
<circle cx="1175.1" cy="900.7" r="11.0" fill="#beff39"/>
<circle cx="1175.1" cy="878.3" r="11.0" fill="#adff49"/>
<circle cx="1177.5" cy="527.5" r="11.0" fill="#9dff5a"/>
<circle cx="1177.5" cy="562.4" r="11.0" fill="#8dff6a"/>
<circle cx="1177.5" cy="597.8" r="11.0" fill="#7dff7a"/>
<circle cx="1178.7" cy="479.1" r="11.0" fill="#b4ff43"/>
<circle cx="1178.7" cy="628.5" r="11.0" fill="#63ff94"/>
<circle cx="1189.3" cy="718.9" r="11.0" fill="#0ff8e7"/>
<circle cx="1189.3" cy="754.3" r="11.0" fill="#63ff94"/>
<circle cx="1190.5" cy="678.0" r="11.0" fill="#009cff"/>
<circle cx="1190.5" cy="900.7" r="11.0" fill="#beff39"/>
<circle cx="1191.6" cy="829.8" r="11.0" fill="#9dff5a"/>
<circle cx="1191.6" cy="865.2" r="11.0" fill="#adff49"/>
<circle cx="1192.8" cy="789.7" r="11.0" fill="#83ff73"/>
<circle cx="1194.0" cy="513.3" r="11.0" fill="#9dff5a"/>
<circle cx="1194.0" cy="548.7" r="11.0" fill="#83ff73"/>
<circle cx="1194.0" cy="583.7" r="11.0" fill="#7dff7a"/>
<circle cx="1194.0" cy="619.0" r="11.0" fill="#63ff94"/>
<circle cx="1194.0" cy="650.9" r="11.0" fill="#39ffbe"/>
<circle cx="1195.2" cy="463.8" r="11.0" fill="#b4ff43"/>
<circle cx="1204.6" cy="754.3" r="11.0" fill="#63ff94"/>
<circle cx="1205.8" cy="705.2" r="11.0" fill="#009cff"/>
<circle cx="1207.0" cy="825.1" r="11.0" fill="#9dff5a"/>
<circle cx="1207.0" cy="861.6" r="11.0" fill="#adff49"/>
<circle cx="1207.0" cy="896.0" r="11.0" fill="#b4ff43"/>
<circle cx="1207.0" cy="918.4" r="11.0" fill="#adff49"/>
<circle cx="1208.2" cy="789.7" r="11.0" fill="#83ff73"/>
<circle cx="1210.5" cy="479.1" r="11.0" fill="#adff49"/>
<circle cx="1210.5" cy="442.5" r="11.0" fill="#b4ff43"/>
<circle cx="1210.5" cy="513.3" r="11.0" fill="#94ff63"/>
<circle cx="1210.5" cy="548.7" r="11.0" fill="#83ff73"/>
<circle cx="1210.5" cy="583.7" r="11.0" fill="#73ff83"/>
<circle cx="1210.5" cy="619.0" r="11.0" fill="#5aff9d"/>
<circle cx="1210.5" cy="650.9" r="11.0" fill="#30ffc7"/>
<circle cx="1219.9" cy="687.5" r="11.0" fill="#0000ff"/>
<circle cx="1221.1" cy="722.4" r="11.0" fill="#0ff8e7"/>
<circle cx="1221.1" cy="759.0" r="11.0" fill="#5aff9d"/>
<circle cx="1222.3" cy="829.8" r="11.0" fill="#94ff63"/>
<circle cx="1222.3" cy="865.2" r="11.0" fill="#a4ff53"/>
<circle cx="1222.3" cy="913.7" r="11.0" fill="#adff49"/>
<circle cx="1223.5" cy="794.4" r="11.0" fill="#7dff7a"/>
<circle cx="1225.8" cy="479.1" r="11.0" fill="#adff49"/>
<circle cx="1225.8" cy="442.5" r="11.0" fill="#b4ff43"/>
<circle cx="1225.8" cy="513.3" r="11.0" fill="#94ff63"/>
<circle cx="1225.8" cy="548.7" r="11.0" fill="#7dff7a"/>
<circle cx="1225.8" cy="583.7" r="11.0" fill="#73ff83"/>
<circle cx="1225.8" cy="615.5" r="11.0" fill="#5aff9d"/>
<circle cx="1225.8" cy="650.9" r="11.0" fill="#30ffc7"/>
<circle cx="1236.5" cy="727.1" r="11.0" fill="#19ffde"/>
<circle cx="1237.6" cy="691.6" r="11.0" fill="#0000ad"/>
<circle cx="1238.8" cy="767.2" r="11.0" fill="#53ffa4"/>
<circle cx="1238.8" cy="802.6" r="11.0" fill="#73ff83"/>
<circle cx="1238.8" cy="839.2" r="11.0" fill="#8dff6a"/>
<circle cx="1238.8" cy="913.7" r="11.0" fill="#a4ff53"/>
<circle cx="1240.0" cy="872.0" r="11.0" fill="#9dff5a"/>
<circle cx="1241.2" cy="487.4" r="11.0" fill="#a4ff53"/>
<circle cx="1241.2" cy="522.8" r="11.0" fill="#8dff6a"/>
<circle cx="1241.2" cy="557.7" r="11.0" fill="#7dff7a"/>
<circle cx="1241.2" cy="593.1" r="11.0" fill="#6aff8d"/>
<circle cx="1241.2" cy="628.5" r="11.0" fill="#53ffa4"/>
<circle cx="1241.2" cy="659.2" r="11.0" fill="#00e4f8"/>
<circle cx="1242.4" cy="447.2" r="11.0" fill="#adff49"/>
<circle cx="1251.8" cy="714.2" r="11.0" fill="#00b0ff"/>
<circle cx="1254.2" cy="749.6" r="11.0" fill="#39ffbe"/>
<circle cx="1254.2" cy="784.9" r="11.0" fill="#5aff9d"/>
<circle cx="1254.2" cy="820.3" r="11.0" fill="#7dff7a"/>
<circle cx="1254.2" cy="856.9" r="11.0" fill="#8dff6a"/>
<circle cx="1254.2" cy="923.1" r="11.0" fill="#9dff5a"/>
<circle cx="1254.2" cy="896.0" r="11.0" fill="#8dff6a"/>
<circle cx="1256.5" cy="535.7" r="11.0" fill="#7dff7a"/>
<circle cx="1256.5" cy="641.5" r="11.0" fill="#39ffbe"/>
<circle cx="1256.5" cy="678.0" r="11.0" fill="#0074ff"/>
<circle cx="1257.7" cy="433.1" r="11.0" fill="#adff49"/>
<circle cx="1257.7" cy="469.7" r="11.0" fill="#94ff63"/>
<circle cx="1257.7" cy="505.1" r="11.0" fill="#83ff73"/>
<circle cx="1257.7" cy="569.5" r="11.0" fill="#6aff8d"/>
<circle cx="1257.7" cy="606.1" r="11.0" fill="#5aff9d"/>
<circle cx="1269.5" cy="718.9" r="11.0" fill="#00b0ff"/>
<circle cx="1270.7" cy="759.0" r="11.0" fill="#39ffbe"/>
<circle cx="1270.7" cy="797.9" r="11.0" fill="#5aff9d"/>
<circle cx="1270.7" cy="834.5" r="11.0" fill="#7dff7a"/>
<circle cx="1270.7" cy="869.9" r="11.0" fill="#8dff6a"/>
<circle cx="1270.7" cy="932.6" r="11.0" fill="#94ff63"/>
<circle cx="1270.7" cy="905.5" r="11.0" fill="#8dff6a"/>
<circle cx="1273.0" cy="437.8" r="11.0" fill="#a4ff53"/>
<circle cx="1273.0" cy="482.6" r="11.0" fill="#8dff6a"/>
<circle cx="1273.0" cy="518.0" r="11.0" fill="#7dff7a"/>
<circle cx="1273.0" cy="552.3" r="11.0" fill="#5aff9d"/>
<circle cx="1273.0" cy="588.4" r="11.0" fill="#5aff9d"/>
<circle cx="1273.0" cy="620.2" r="11.0" fill="#39ffbe"/>
<circle cx="1273.0" cy="655.6" r="11.0" fill="#00dcfe"/>
<circle cx="1273.0" cy="687.5" r="11.0" fill="#0000ff"/>
<circle cx="1280.0" cy="729.5" r="11.0" fill="#00dcfe"/>
<circle cx="1280.0" cy="770.8" r="11.0" fill="#39ffbe"/>
<circle cx="1280.0" cy="939.7" r="11.0" fill="#94ff63"/>
<circle cx="1286.5" cy="767.1" r="11.0" fill="#33ffc4"/>
<circle cx="1286.5" cy="801.3" r="11.0" fill="#53ffa4"/>
<circle cx="1286.5" cy="837.9" r="11.0" fill="#73ff83"/>
<circle cx="1286.5" cy="873.3" r="11.0" fill="#83ff73"/>
<circle cx="1286.5" cy="908.7" r="11.0" fill="#87ff70"/>
<circle cx="1287.7" cy="416.3" r="11.0" fill="#a4ff53"/>
<circle cx="1287.7" cy="696.8" r="11.0" fill="#002cff"/>
<circle cx="1288.9" cy="443.6" r="11.0" fill="#97ff60"/>
<circle cx="1288.9" cy="478.8" r="11.0" fill="#8aff6d"/>
<circle cx="1288.9" cy="513.9" r="11.0" fill="#77ff80"/>
<circle cx="1288.9" cy="549.1" r="11.0" fill="#56ffa0"/>
<circle cx="1288.9" cy="584.2" r="11.0" fill="#50ffa7"/>
<circle cx="1288.9" cy="620.1" r="11.0" fill="#39ffbe"/>
<circle cx="1288.9" cy="657.9" r="11.0" fill="#00bcff"/>
<circle cx="1301.9" cy="771.9" r="11.0" fill="#33ffc4"/>
<circle cx="1301.9" cy="806.1" r="11.0" fill="#50ffa7"/>
<circle cx="1301.9" cy="842.6" r="11.0" fill="#6dff8a"/>
<circle cx="1301.9" cy="878.0" r="11.0" fill="#7dff7a"/>
<circle cx="1301.9" cy="913.0" r="11.0" fill="#80ff77"/>
<circle cx="1301.9" cy="940.1" r="11.0" fill="#8aff6d"/>
<circle cx="1304.2" cy="455.4" r="11.0" fill="#90ff66"/>
<circle cx="1304.2" cy="490.6" r="11.0" fill="#80ff77"/>
<circle cx="1304.2" cy="525.7" r="11.0" fill="#66ff90"/>
<circle cx="1304.2" cy="560.9" r="11.0" fill="#49ffad"/>
<circle cx="1304.2" cy="595.3" r="11.0" fill="#53ffa4"/>
<circle cx="1304.2" cy="631.9" r="11.0" fill="#29ffce"/>
<circle cx="1304.2" cy="669.7" r="11.0" fill="#009cff"/>
<circle cx="1304.2" cy="701.5" r="11.0" fill="#004cff"/>
<circle cx="1305.4" cy="416.3" r="11.0" fill="#a4ff53"/>
<circle cx="1316.0" cy="953.1" r="11.0" fill="#8dff6a"/>
<circle cx="1317.2" cy="767.1" r="11.0" fill="#23ffd4"/>
<circle cx="1317.2" cy="815.5" r="11.0" fill="#50ffa7"/>
<circle cx="1317.2" cy="850.9" r="11.0" fill="#6aff8d"/>
<circle cx="1317.2" cy="887.5" r="11.0" fill="#73ff83"/>
<circle cx="1317.2" cy="922.4" r="11.0" fill="#7dff7a"/>
<circle cx="1320.7" cy="398.6" r="11.0" fill="#a4ff53"/>
<circle cx="1320.7" cy="434.0" r="11.0" fill="#94ff63"/>
<circle cx="1320.7" cy="468.7" r="11.0" fill="#8aff6d"/>
<circle cx="1320.7" cy="503.9" r="11.0" fill="#6dff8a"/>
<circle cx="1320.7" cy="539.0" r="11.0" fill="#53ffa4"/>
<circle cx="1320.7" cy="574.2" r="11.0" fill="#46ffb1"/>
<circle cx="1320.7" cy="609.5" r="11.0" fill="#39ffbe"/>
<circle cx="1320.7" cy="643.7" r="11.0" fill="#09f0ee"/>
<circle cx="1320.7" cy="677.9" r="11.0" fill="#0060ff"/>
<circle cx="1320.7" cy="713.3" r="11.0" fill="#009cff"/>
<circle cx="1332.5" cy="947.2" r="11.0" fill="#83ff73"/>
<circle cx="1333.7" cy="761.2" r="11.0" fill="#0ff8e7"/>
<circle cx="1333.7" cy="806.1" r="11.0" fill="#3cffba"/>
<circle cx="1333.7" cy="842.6" r="11.0" fill="#5dff9a"/>
<circle cx="1333.7" cy="878.0" r="11.0" fill="#6dff8a"/>
<circle cx="1333.7" cy="913.0" r="11.0" fill="#70ff87"/>
<circle cx="1336.1" cy="455.4" r="11.0" fill="#8dff6a"/>
<circle cx="1336.1" cy="490.6" r="11.0" fill="#70ff87"/>
<circle cx="1336.1" cy="525.7" r="11.0" fill="#56ffa0"/>
<circle cx="1336.1" cy="560.9" r="11.0" fill="#39ffbe"/>
<circle cx="1336.1" cy="595.3" r="11.0" fill="#43ffb4"/>
<circle cx="1336.1" cy="631.9" r="11.0" fill="#0ff8e7"/>
<circle cx="1336.1" cy="668.5" r="11.0" fill="#009cff"/>
<circle cx="1336.1" cy="705.1" r="11.0" fill="#004cff"/>
<circle cx="1336.1" cy="729.8" r="11.0" fill="#00dcfe"/>
<circle cx="1337.2" cy="406.9" r="11.0" fill="#9dff5a"/>
<circle cx="1344.3" cy="972.0" r="11.0" fill="#8dff6a"/>
<circle cx="1347.9" cy="940.1" r="11.0" fill="#77ff80"/>
<circle cx="1349.0" cy="784.8" r="11.0" fill="#29ffce"/>
<circle cx="1349.0" cy="833.2" r="11.0" fill="#4dffaa"/>
<circle cx="1349.0" cy="868.6" r="11.0" fill="#60ff97"/>
<circle cx="1349.0" cy="904.0" r="11.0" fill="#66ff90"/>
<circle cx="1351.4" cy="376.2" r="11.0" fill="#9dff5a"/>
<circle cx="1351.4" cy="446.0" r="11.0" fill="#87ff70"/>
<circle cx="1351.4" cy="481.1" r="11.0" fill="#73ff83"/>
<circle cx="1351.4" cy="516.3" r="11.0" fill="#56ffa0"/>
<circle cx="1351.4" cy="551.4" r="11.0" fill="#3cffba"/>
<circle cx="1351.4" cy="587.1" r="11.0" fill="#39ffbe"/>
<circle cx="1351.4" cy="622.5" r="11.0" fill="#09f0ee"/>
<circle cx="1351.4" cy="657.9" r="11.0" fill="#00a8ff"/>
<circle cx="1351.4" cy="695.6" r="11.0" fill="#0000f1"/>
<circle cx="1351.4" cy="729.8" r="11.0" fill="#00c4ff"/>
<circle cx="1352.6" cy="411.6" r="11.0" fill="#94ff63"/>
<circle cx="1360.8" cy="976.7" r="11.0" fill="#83ff73"/>
<circle cx="1364.4" cy="766.0" r="11.0" fill="#0ff8e7"/>
<circle cx="1364.4" cy="803.7" r="11.0" fill="#30ffc7"/>
<circle cx="1364.4" cy="839.1" r="11.0" fill="#49ffad"/>
<circle cx="1364.4" cy="873.3" r="11.0" fill="#5dff9a"/>
<circle cx="1364.4" cy="908.7" r="11.0" fill="#63ff94"/>
<circle cx="1364.4" cy="944.8" r="11.0" fill="#73ff83"/>
<circle cx="1367.9" cy="411.6" r="11.0" fill="#94ff63"/>
<circle cx="1367.9" cy="376.2" r="11.0" fill="#94ff63"/>
<circle cx="1367.9" cy="449.5" r="11.0" fill="#80ff77"/>
<circle cx="1367.9" cy="484.7" r="11.0" fill="#6aff8d"/>
<circle cx="1367.9" cy="519.8" r="11.0" fill="#50ffa7"/>
<circle cx="1367.9" cy="555.0" r="11.0" fill="#33ffc4"/>
<circle cx="1367.9" cy="589.4" r="11.0" fill="#30ffc7"/>
<circle cx="1367.9" cy="623.7" r="11.0" fill="#00e4f8"/>
<circle cx="1367.9" cy="659.0" r="11.0" fill="#00a8ff"/>
<circle cx="1367.9" cy="695.6" r="11.0" fill="#0000f1"/>
<circle cx="1367.9" cy="729.8" r="11.0" fill="#00c4ff"/>
<circle cx="1377.4" cy="981.4" r="11.0" fill="#7aff7d"/>
<circle cx="1380.9" cy="745.9" r="11.0" fill="#00b0ff"/>
<circle cx="1380.9" cy="771.9" r="11.0" fill="#19ffde"/>
<circle cx="1380.9" cy="816.7" r="11.0" fill="#30ffc7"/>
<circle cx="1380.9" cy="852.1" r="11.0" fill="#49ffad"/>
<circle cx="1380.9" cy="887.5" r="11.0" fill="#56ffa0"/>
<circle cx="1380.9" cy="922.4" r="11.0" fill="#60ff97"/>
<circle cx="1380.9" cy="954.3" r="11.0" fill="#6dff8a"/>
<circle cx="1382.1" cy="676.7" r="11.0" fill="#002cff"/>
<circle cx="1383.3" cy="432.8" r="11.0" fill="#7dff7a"/>
<circle cx="1383.3" cy="468.1" r="11.0" fill="#6dff8a"/>
<circle cx="1383.3" cy="503.3" r="11.0" fill="#56ffa0"/>
<circle cx="1383.3" cy="538.5" r="11.0" fill="#3cffba"/>
<circle cx="1383.3" cy="573.6" r="11.0" fill="#2cffca"/>
<circle cx="1383.3" cy="607.1" r="11.0" fill="#00e4f8"/>
<circle cx="1383.3" cy="643.7" r="11.0" fill="#00b0ff"/>
<circle cx="1383.3" cy="713.3" r="11.0" fill="#0094ff"/>
<circle cx="1384.4" cy="384.4" r="11.0" fill="#8dff6a"/>
<circle cx="1390.3" cy="362.6" r="11.0" fill="#8dff6a"/>
<circle cx="1391.5" cy="683.8" r="11.0" fill="#000cff"/>
<circle cx="1399.8" cy="450.7" r="11.0" fill="#73ff83"/>
<circle cx="1399.8" cy="485.8" r="11.0" fill="#5aff9d"/>
<circle cx="1399.8" cy="521.0" r="11.0" fill="#43ffb4"/>
<circle cx="1399.8" cy="556.1" r="11.0" fill="#29ffce"/>
<circle cx="1401.0" cy="398.6" r="11.0" fill="#7dff7a"/>
<circle cx="1401.0" cy="593.0" r="11.0" fill="#0ff8e7"/>
<circle cx="1401.0" cy="627.2" r="11.0" fill="#00c4ff"/>
<circle cx="1401.0" cy="662.6" r="11.0" fill="#0080ff"/>
<circle cx="1401.0" cy="700.3" r="11.0" fill="#0000ff"/>
<circle cx="1401.0" cy="735.7" r="11.0" fill="#00bcff"/>
<circle cx="1401.0" cy="770.7" r="11.0" fill="#0ff8e7"/>
<circle cx="1401.0" cy="807.2" r="11.0" fill="#26ffd1"/>
<circle cx="1401.0" cy="842.6" r="11.0" fill="#39ffbe"/>
<circle cx="1401.0" cy="878.0" r="11.0" fill="#49ffad"/>
<circle cx="1401.0" cy="913.0" r="11.0" fill="#53ffa4"/>
<circle cx="1401.0" cy="1006.2" r="11.0" fill="#73ff83"/>
<circle cx="1402.1" cy="948.4" r="11.0" fill="#5dff9a"/>
<circle cx="1402.1" cy="974.3" r="11.0" fill="#66ff90"/>
<circle cx="1405.7" cy="1034.5" r="11.0" fill="#7dff7a"/>
<circle cx="1413.9" cy="432.8" r="11.0" fill="#6aff8d"/>
<circle cx="1413.9" cy="468.1" r="11.0" fill="#5dff9a"/>
<circle cx="1413.9" cy="503.3" r="11.0" fill="#46ffb1"/>
<circle cx="1413.9" cy="538.5" r="11.0" fill="#2cffca"/>
<circle cx="1413.9" cy="573.6" r="11.0" fill="#0ff8e7"/>
<circle cx="1413.9" cy="609.5" r="11.0" fill="#00c4ff"/>
<circle cx="1413.9" cy="646.1" r="11.0" fill="#0094ff"/>
<circle cx="1413.9" cy="682.6" r="11.0" fill="#0004ff"/>
<circle cx="1413.9" cy="716.9" r="11.0" fill="#0080ff"/>
<circle cx="1413.9" cy="758.3" r="11.0" fill="#0094ff"/>
<circle cx="1413.9" cy="793.7" r="11.0" fill="#02e8f4"/>
<circle cx="1413.9" cy="829.1" r="11.0" fill="#19ffde"/>
<circle cx="1413.9" cy="864.5" r="11.0" fill="#3cffba"/>
<circle cx="1413.9" cy="899.9" r="11.0" fill="#46ffb1"/>
<circle cx="1413.9" cy="935.2" r="11.0" fill="#50ffa7"/>
<circle cx="1413.9" cy="971.7" r="11.0" fill="#5dff9a"/>
<circle cx="1413.9" cy="1008.3" r="11.0" fill="#6aff8d"/>
<circle cx="1415.1" cy="385.6" r="11.0" fill="#73ff83"/>
<circle cx="1418.7" cy="1041.3" r="11.0" fill="#70ff87"/>
<circle cx="1428.1" cy="397.4" r="11.0" fill="#6aff8d"/>
<circle cx="1428.1" cy="362.0" r="11.0" fill="#6aff8d"/>
<circle cx="1428.1" cy="432.8" r="11.0" fill="#63ff94"/>
<circle cx="1428.1" cy="468.1" r="11.0" fill="#53ffa4"/>
<circle cx="1428.1" cy="503.3" r="11.0" fill="#3cffba"/>
<circle cx="1428.1" cy="538.5" r="11.0" fill="#23ffd4"/>
<circle cx="1428.1" cy="573.6" r="11.0" fill="#06ecf1"/>
<circle cx="1428.1" cy="609.5" r="11.0" fill="#00c4ff"/>
<circle cx="1428.1" cy="646.1" r="11.0" fill="#0094ff"/>
<circle cx="1428.1" cy="682.6" r="11.0" fill="#0004ff"/>
<circle cx="1428.1" cy="716.9" r="11.0" fill="#0080ff"/>
<circle cx="1428.1" cy="758.3" r="11.0" fill="#0094ff"/>
<circle cx="1428.1" cy="793.7" r="11.0" fill="#00c4ff"/>
<circle cx="1428.1" cy="829.1" r="11.0" fill="#09f0ee"/>
<circle cx="1428.1" cy="864.5" r="11.0" fill="#33ffc4"/>
<circle cx="1428.1" cy="899.9" r="11.0" fill="#40ffb7"/>
<circle cx="1428.1" cy="935.2" r="11.0" fill="#46ffb1"/>
<circle cx="1428.1" cy="971.7" r="11.0" fill="#53ffa4"/>
<circle cx="1428.1" cy="1008.3" r="11.0" fill="#60ff97"/>
<circle cx="1431.6" cy="1046.1" r="11.0" fill="#6aff8d"/>
<circle cx="1442.3" cy="411.6" r="11.0" fill="#63ff94"/>
<circle cx="1442.3" cy="446.0" r="11.0" fill="#56ffa0"/>
<circle cx="1442.3" cy="481.1" r="11.0" fill="#43ffb4"/>
<circle cx="1442.3" cy="516.3" r="11.0" fill="#26ffd1"/>
<circle cx="1442.3" cy="551.4" r="11.0" fill="#0cf4eb"/>
<circle cx="1442.3" cy="587.1" r="11.0" fill="#00d0ff"/>
<circle cx="1442.3" cy="623.7" r="11.0" fill="#009cff"/>
<circle cx="1442.3" cy="659.0" r="11.0" fill="#0068ff"/>
<circle cx="1442.3" cy="694.4" r="11.0" fill="#0000b6"/>
<circle cx="1442.3" cy="729.8" r="11.0" fill="#0094ff"/>
<circle cx="1442.3" cy="768.9" r="11.0" fill="#0080ff"/>
<circle cx="1442.3" cy="804.3" r="11.0" fill="#00acff"/>
<circle cx="1442.3" cy="840.9" r="11.0" fill="#1cffdb"/>
<circle cx="1442.3" cy="876.3" r="11.0" fill="#2cffca"/>
<circle cx="1442.3" cy="910.5" r="11.0" fill="#39ffbe"/>
<circle cx="1442.3" cy="947.0" r="11.0" fill="#40ffb7"/>
<circle cx="1442.3" cy="983.5" r="11.0" fill="#4dffaa"/>
<circle cx="1442.3" cy="1017.7" r="11.0" fill="#5aff9d"/>
<circle cx="1442.3" cy="1057.9" r="11.0" fill="#60ff97"/>
<circle cx="1443.4" cy="366.7" r="11.0" fill="#63ff94"/>
<circle cx="1455.2" cy="423.4" r="11.0" fill="#5aff9d"/>
<circle cx="1455.2" cy="352.6" r="11.0" fill="#5aff9d"/>
<circle cx="1455.2" cy="389.2" r="11.0" fill="#53ffa4"/>
<circle cx="1455.2" cy="458.9" r="11.0" fill="#49ffad"/>
<circle cx="1455.2" cy="494.1" r="11.0" fill="#30ffc7"/>
<circle cx="1455.2" cy="529.2" r="11.0" fill="#13fce4"/>
<circle cx="1455.2" cy="564.4" r="11.0" fill="#00dcfe"/>
<circle cx="1455.2" cy="600.1" r="11.0" fill="#00b0ff"/>
<circle cx="1455.2" cy="636.6" r="11.0" fill="#0080ff"/>
<circle cx="1455.2" cy="673.2" r="11.0" fill="#0040ff"/>
<circle cx="1455.2" cy="708.6" r="11.0" fill="#0038ff"/>
<circle cx="1455.2" cy="742.8" r="11.0" fill="#009cff"/>
<circle cx="1455.2" cy="781.9" r="11.0" fill="#0074ff"/>
<circle cx="1455.2" cy="817.3" r="11.0" fill="#00bcff"/>
<circle cx="1455.2" cy="852.7" r="11.0" fill="#19ffde"/>
<circle cx="1455.2" cy="888.1" r="11.0" fill="#2cffca"/>
<circle cx="1455.2" cy="923.4" r="11.0" fill="#30ffc7"/>
<circle cx="1455.2" cy="959.9" r="11.0" fill="#3cffba"/>
<circle cx="1455.2" cy="995.3" r="11.0" fill="#49ffad"/>
<circle cx="1455.2" cy="1030.7" r="11.0" fill="#56ffa0"/>
<circle cx="1455.2" cy="1066.1" r="11.0" fill="#56ffa0"/>
<circle cx="1468.2" cy="435.2" r="11.0" fill="#53ffa4"/>
<circle cx="1468.2" cy="398.6" r="11.0" fill="#49ffad"/>
<circle cx="1468.2" cy="470.5" r="11.0" fill="#30ffc7"/>
<circle cx="1468.2" cy="505.7" r="11.0" fill="#16ffe1"/>
<circle cx="1468.2" cy="540.8" r="11.0" fill="#00dcfe"/>
<circle cx="1468.2" cy="576.0" r="11.0" fill="#00c8ff"/>
<circle cx="1469.4" cy="349.0" r="11.0" fill="#53ffa4"/>
<circle cx="1469.4" cy="611.9" r="11.0" fill="#009cff"/>
<circle cx="1469.4" cy="647.2" r="11.0" fill="#0074ff"/>
<circle cx="1469.4" cy="683.8" r="11.0" fill="#0004ff"/>
<circle cx="1469.4" cy="719.2" r="11.0" fill="#004cff"/>
<circle cx="1469.4" cy="794.9" r="11.0" fill="#0074ff"/>
<circle cx="1469.4" cy="756.0" r="11.0" fill="#0060ff"/>
<circle cx="1469.4" cy="830.3" r="11.0" fill="#00d4ff"/>
<circle cx="1469.4" cy="865.6" r="11.0" fill="#19ffde"/>
<circle cx="1469.4" cy="901.0" r="11.0" fill="#26ffd1"/>
<circle cx="1469.4" cy="936.3" r="11.0" fill="#29ffce"/>
<circle cx="1469.4" cy="972.9" r="11.0" fill="#39ffbe"/>
<circle cx="1469.4" cy="1008.3" r="11.0" fill="#43ffb4"/>
<circle cx="1469.4" cy="1043.7" r="11.0" fill="#4dffaa"/>
<circle cx="1469.4" cy="1073.2" r="11.0" fill="#4dffaa"/>
<circle cx="1482.4" cy="340.8" r="11.0" fill="#49ffad"/>
<circle cx="1482.4" cy="384.4" r="11.0" fill="#43ffb4"/>
<circle cx="1482.4" cy="419.8" r="11.0" fill="#39ffbe"/>
<circle cx="1482.4" cy="454.2" r="11.0" fill="#2cffca"/>
<circle cx="1482.4" cy="489.4" r="11.0" fill="#0cf4eb"/>
<circle cx="1482.4" cy="524.5" r="11.0" fill="#00d4ff"/>
<circle cx="1482.4" cy="559.7" r="11.0" fill="#00bcff"/>
<circle cx="1482.4" cy="595.3" r="11.0" fill="#00a8ff"/>
<circle cx="1482.4" cy="633.1" r="11.0" fill="#0074ff"/>
<circle cx="1482.4" cy="669.7" r="11.0" fill="#002cff"/>
<circle cx="1482.4" cy="705.1" r="11.0" fill="#0004ff"/>
<circle cx="1482.4" cy="739.3" r="11.0" fill="#0088ff"/>
<circle cx="1482.4" cy="780.7" r="11.0" fill="#0074ff"/>
<circle cx="1482.4" cy="816.1" r="11.0" fill="#00a4ff"/>
<circle cx="1482.4" cy="851.5" r="11.0" fill="#06ecf1"/>
<circle cx="1482.4" cy="886.9" r="11.0" fill="#19ffde"/>
<circle cx="1482.4" cy="922.2" r="11.0" fill="#23ffd4"/>
<circle cx="1482.4" cy="957.6" r="11.0" fill="#29ffce"/>
<circle cx="1482.4" cy="994.1" r="11.0" fill="#39ffbe"/>
<circle cx="1482.4" cy="1028.4" r="11.0" fill="#40ffb7"/>
<circle cx="1482.4" cy="1063.8" r="11.0" fill="#43ffb4"/>
<circle cx="1482.4" cy="1087.2" r="11.0" fill="#43ffb4"/>
<circle cx="1496.5" cy="331.3" r="11.0" fill="#43ffb4"/>
<circle cx="1496.5" cy="376.2" r="11.0" fill="#39ffbe"/>
<circle cx="1496.5" cy="411.6" r="11.0" fill="#30ffc7"/>
<circle cx="1496.5" cy="446.0" r="11.0" fill="#30ffc7"/>
<circle cx="1496.5" cy="481.1" r="11.0" fill="#00e4f8"/>
<circle cx="1496.5" cy="516.3" r="11.0" fill="#00c4ff"/>
<circle cx="1496.5" cy="551.4" r="11.0" fill="#00b0ff"/>
<circle cx="1496.5" cy="587.1" r="11.0" fill="#00b0ff"/>
<circle cx="1496.5" cy="623.7" r="11.0" fill="#0074ff"/>
<circle cx="1496.5" cy="659.0" r="11.0" fill="#0038ff"/>
<circle cx="1496.5" cy="694.4" r="11.0" fill="#00009f"/>
<circle cx="1496.5" cy="729.8" r="11.0" fill="#0074ff"/>
<circle cx="1496.5" cy="772.4" r="11.0" fill="#0074ff"/>
<circle cx="1496.5" cy="806.7" r="11.0" fill="#009cff"/>
<circle cx="1496.5" cy="842.1" r="11.0" fill="#00d8ff"/>
<circle cx="1496.5" cy="877.4" r="11.0" fill="#0cf4eb"/>
<circle cx="1496.5" cy="912.8" r="11.0" fill="#19ffde"/>
<circle cx="1496.5" cy="949.3" r="11.0" fill="#1cffdb"/>
<circle cx="1496.5" cy="985.9" r="11.0" fill="#2cffca"/>
<circle cx="1496.5" cy="1021.3" r="11.0" fill="#33ffc4"/>
<circle cx="1496.5" cy="1056.7" r="11.0" fill="#39ffbe"/>
<circle cx="1496.5" cy="1091.9" r="11.0" fill="#43ffb4"/>
<circle cx="1509.5" cy="321.9" r="11.0" fill="#39ffbe"/>
<circle cx="1509.5" cy="371.5" r="11.0" fill="#30ffc7"/>
<circle cx="1509.5" cy="406.9" r="11.0" fill="#29ffce"/>
<circle cx="1509.5" cy="441.1" r="11.0" fill="#0ff8e7"/>
<circle cx="1509.5" cy="477.6" r="11.0" fill="#00d0ff"/>
<circle cx="1509.5" cy="512.7" r="11.0" fill="#00b4ff"/>
<circle cx="1509.5" cy="547.9" r="11.0" fill="#00a0ff"/>
<circle cx="1509.5" cy="583.0" r="11.0" fill="#00b0ff"/>
<circle cx="1510.7" cy="618.9" r="11.0" fill="#0074ff"/>
<circle cx="1510.7" cy="655.5" r="11.0" fill="#0038ff"/>
<circle cx="1510.7" cy="689.7" r="11.0" fill="#000096"/>
<circle cx="1510.7" cy="725.1" r="11.0" fill="#0060ff"/>
<circle cx="1510.7" cy="767.7" r="11.0" fill="#0080ff"/>
<circle cx="1510.7" cy="801.9" r="11.0" fill="#00a8ff"/>
<circle cx="1510.7" cy="837.3" r="11.0" fill="#00c4ff"/>
<circle cx="1510.7" cy="872.7" r="11.0" fill="#00e4f8"/>
<circle cx="1510.7" cy="908.1" r="11.0" fill="#0ff8e7"/>
<circle cx="1510.7" cy="944.6" r="11.0" fill="#0ff8e7"/>
<circle cx="1510.7" cy="981.2" r="11.0" fill="#1fffd7"/>
<circle cx="1510.7" cy="1016.6" r="11.0" fill="#29ffce"/>
<circle cx="1510.7" cy="1052.0" r="11.0" fill="#30ffc7"/>
<circle cx="1510.7" cy="1083.7" r="11.0" fill="#39ffbe"/>
<circle cx="1510.7" cy="1109.6" r="11.0" fill="#43ffb4"/>
<circle cx="1521.3" cy="308.0" r="11.0" fill="#29ffce"/>
<circle cx="1521.3" cy="342.0" r="11.0" fill="#0ff8e7"/>
<circle cx="1521.3" cy="383.1" r="11.0" fill="#09f0ee"/>
<circle cx="1521.3" cy="419.7" r="11.0" fill="#00dcfe"/>
<circle cx="1521.3" cy="455.1" r="11.0" fill="#00c4ff"/>
<circle cx="1521.3" cy="491.6" r="11.0" fill="#00b0ff"/>
<circle cx="1521.3" cy="598.5" r="11.0" fill="#0068ff"/>
<circle cx="1521.3" cy="811.3" r="11.0" fill="#0094ff"/>
<circle cx="1522.5" cy="847.9" r="11.0" fill="#00b0ff"/>
<circle cx="1523.7" cy="525.4" r="11.0" fill="#009cff"/>
<circle cx="1523.7" cy="563.1" r="11.0" fill="#0088ff"/>
<circle cx="1523.7" cy="633.9" r="11.0" fill="#0038ff"/>
<circle cx="1523.7" cy="883.3" r="11.0" fill="#00c4ff"/>
<circle cx="1523.7" cy="919.8" r="11.0" fill="#00dcfe"/>
<circle cx="1523.7" cy="953.6" r="11.0" fill="#00e4f8"/>
<circle cx="1523.7" cy="989.0" r="11.0" fill="#0ff8e7"/>
<circle cx="1523.7" cy="1025.6" r="11.0" fill="#1fffd7"/>
<circle cx="1523.7" cy="1061.0" r="11.0" fill="#29ffce"/>
<circle cx="1524.8" cy="1103.6" r="11.0" fill="#30ffc7"/>
<circle cx="1534.3" cy="537.2" r="11.0" fill="#009cff"/>
<circle cx="1535.5" cy="309.2" r="11.0" fill="#29ffce"/>
<circle cx="1535.5" cy="358.3" r="11.0" fill="#09f0ee"/>
<circle cx="1535.5" cy="392.5" r="11.0" fill="#00e4f8"/>
<circle cx="1535.5" cy="429.1" r="11.0" fill="#00d0ff"/>
<circle cx="1535.5" cy="464.5" r="11.0" fill="#00bcff"/>
<circle cx="1535.5" cy="880.9" r="11.0" fill="#00bcff"/>
<circle cx="1536.6" cy="915.1" r="11.0" fill="#00d0ff"/>
<circle cx="1536.6" cy="950.1" r="11.0" fill="#00dcfe"/>
<circle cx="1536.6" cy="985.5" r="11.0" fill="#09f0ee"/>
<circle cx="1536.6" cy="1020.8" r="11.0" fill="#19ffde"/>
<circle cx="1536.6" cy="1057.4" r="11.0" fill="#1fffd7"/>
<circle cx="1536.6" cy="1092.8" r="11.0" fill="#1fffd7"/>
<circle cx="1539.0" cy="1127.2" r="11.0" fill="#29ffce"/>
<circle cx="1549.6" cy="290.3" r="11.0" fill="#1fffd7"/>
<circle cx="1549.6" cy="335.2" r="11.0" fill="#00dcfe"/>
<circle cx="1549.6" cy="446.8" r="11.0" fill="#00b0ff"/>
<circle cx="1549.6" cy="943.0" r="11.0" fill="#00d0ff"/>
<circle cx="1550.8" cy="373.7" r="11.0" fill="#00c4ff"/>
<circle cx="1550.8" cy="411.4" r="11.0" fill="#00bcff"/>
<circle cx="1550.8" cy="979.6" r="11.0" fill="#00dcfe"/>
<circle cx="1550.8" cy="1014.9" r="11.0" fill="#09f0ee"/>
<circle cx="1550.8" cy="1051.5" r="11.0" fill="#19ffde"/>
<circle cx="1550.8" cy="1088.1" r="11.0" fill="#19ffde"/>
<circle cx="1552.0" cy="1123.7" r="11.0" fill="#29ffce"/>
<circle cx="1560.2" cy="1141.3" r="11.0" fill="#1fffd7"/>
<circle cx="1561.4" cy="264.4" r="11.0" fill="#19ffde"/>
<circle cx="1562.6" cy="301.0" r="11.0" fill="#19ffde"/>
<circle cx="1562.6" cy="335.2" r="11.0" fill="#00d0ff"/>
<circle cx="1564.9" cy="1025.6" r="11.0" fill="#00dcfe"/>
<circle cx="1564.9" cy="1061.0" r="11.0" fill="#09f0ee"/>
<circle cx="1564.9" cy="1095.2" r="11.0" fill="#0ff8e7"/>
<circle cx="1572.0" cy="1153.1" r="11.0" fill="#19ffde"/>
<circle cx="1573.2" cy="317.5" r="11.0" fill="#00c4ff"/>
<circle cx="1573.2" cy="1123.7" r="11.0" fill="#09f0ee"/>
<circle cx="1576.7" cy="270.3" r="11.0" fill="#0ff8e7"/>
<circle cx="1576.7" cy="1082.2" r="11.0" fill="#00d0ff"/>
<circle cx="1585.0" cy="1173.2" r="11.0" fill="#09f0ee"/>
<circle cx="1586.2" cy="1141.3" r="11.0" fill="#00dcfe"/>
<circle cx="1588.5" cy="251.4" r="11.0" fill="#09f0ee"/>
<circle cx="1588.5" cy="293.9" r="11.0" fill="#00c4ff"/>
<circle cx="1598.0" cy="1153.1" r="11.0" fill="#00d0ff"/>
<circle cx="1600.3" cy="232.5" r="11.0" fill="#00c4ff"/>
<circle cx="1601.5" cy="1189.7" r="11.0" fill="#00dcfe"/>
<circle cx="1613.3" cy="1207.4" r="11.0" fill="#00d0ff"/>
<circle cx="1627.5" cy="1212.1" r="11.0" fill="#00c4ff"/>
<circle cx="336.0" cy="682.4" r="11.0" fill="#ffc400"/>
<circle cx="370.5" cy="704.5" r="11.0" fill="#ffc400"/>
<circle cx="724.0" cy="793.9" r="11.0" fill="#ffab00"/>
<circle cx="1536.5" cy="600.5" r="11.0" fill="#0068ff"/>
<circle cx="1538.0" cy="774.0" r="11.0" fill="#004cff"/>
<circle cx="1538.3" cy="585.4" r="11.0" fill="#007cff"/>
<circle cx="1538.8" cy="608.0" r="11.0" fill="#0060ff"/>
<circle cx="1539.1" cy="789.1" r="11.0" fill="#0064ff"/>
<circle cx="1540.2" cy="570.3" r="11.0" fill="#008cff"/>
<circle cx="1540.6" cy="592.9" r="11.0" fill="#0074ff"/>
<circle cx="1540.7" cy="804.2" r="11.0" fill="#0078ff"/>
<circle cx="1541.7" cy="781.6" r="11.0" fill="#0058ff"/>
<circle cx="1541.8" cy="555.2" r="11.0" fill="#0094ff"/>
<circle cx="1542.3" cy="819.3" r="11.0" fill="#0084ff"/>
<circle cx="1542.4" cy="577.8" r="11.0" fill="#0084ff"/>
<circle cx="1542.7" cy="540.1" r="11.0" fill="#009cff"/>
<circle cx="1543.0" cy="796.7" r="11.0" fill="#006cff"/>
<circle cx="1543.8" cy="834.4" r="11.0" fill="#0090ff"/>
<circle cx="1544.1" cy="524.9" r="11.0" fill="#00a0ff"/>
<circle cx="1544.3" cy="562.8" r="11.0" fill="#0090ff"/>
<circle cx="1544.8" cy="811.7" r="11.0" fill="#0080ff"/>
<circle cx="1545.1" cy="849.5" r="11.0" fill="#0098ff"/>
<circle cx="1545.4" cy="547.6" r="11.0" fill="#0098ff"/>
<circle cx="1545.7" cy="509.8" r="11.0" fill="#00a8ff"/>
<circle cx="1546.2" cy="826.8" r="11.0" fill="#0088ff"/>
<circle cx="1546.4" cy="864.6" r="11.0" fill="#009cff"/>
<circle cx="1546.6" cy="532.5" r="11.0" fill="#00a0ff"/>
<circle cx="1547.7" cy="841.9" r="11.0" fill="#0094ff"/>
<circle cx="1547.9" cy="494.8" r="11.0" fill="#00b0ff"/>
<circle cx="1548.0" cy="517.4" r="11.0" fill="#00a4ff"/>
<circle cx="1548.6" cy="879.6" r="11.0" fill="#00a4ff"/>
<circle cx="1549.0" cy="857.0" r="11.0" fill="#0098ff"/>
<circle cx="1550.0" cy="502.3" r="11.0" fill="#00acff"/>
<circle cx="1550.7" cy="872.1" r="11.0" fill="#00a0ff"/>
<circle cx="1551.0" cy="479.9" r="11.0" fill="#00b4ff"/>
<circle cx="1551.1" cy="894.5" r="11.0" fill="#00a8ff"/>
<circle cx="1552.6" cy="487.4" r="11.0" fill="#00b4ff"/>
<circle cx="1552.9" cy="887.1" r="11.0" fill="#00a8ff"/>
<circle cx="1554.0" cy="465.0" r="11.0" fill="#00b8ff"/>
<circle cx="1554.1" cy="909.4" r="11.0" fill="#00acff"/>
<circle cx="1555.7" cy="472.5" r="11.0" fill="#00b8ff"/>
<circle cx="1555.8" cy="901.9" r="11.0" fill="#00acff"/>
<circle cx="1557.0" cy="450.2" r="11.0" fill="#00bcff"/>
<circle cx="1557.6" cy="924.1" r="11.0" fill="#00b0ff"/>
<circle cx="1558.7" cy="457.6" r="11.0" fill="#00b8ff"/>
<circle cx="1559.0" cy="916.8" r="11.0" fill="#00b0ff"/>
<circle cx="1560.3" cy="435.3" r="11.0" fill="#00bcff"/>
<circle cx="1561.3" cy="938.8" r="11.0" fill="#00b8ff"/>
<circle cx="1561.8" cy="442.7" r="11.0" fill="#00bcff"/>
<circle cx="1562.7" cy="931.5" r="11.0" fill="#00b4ff"/>
<circle cx="1563.6" cy="420.5" r="11.0" fill="#00bcff"/>
<circle cx="1564.1" cy="953.7" r="11.0" fill="#00b8ff"/>
<circle cx="1565.3" cy="428.0" r="11.0" fill="#00bcff"/>
<circle cx="1566.0" cy="946.3" r="11.0" fill="#00b8ff"/>
<circle cx="1566.5" cy="405.6" r="11.0" fill="#00c0ff"/>
<circle cx="1566.9" cy="968.6" r="11.0" fill="#00bcff"/>
<circle cx="1568.3" cy="413.1" r="11.0" fill="#00bcff"/>
<circle cx="1568.7" cy="961.2" r="11.0" fill="#00bcff"/>
<circle cx="1569.9" cy="983.5" r="11.0" fill="#00c0ff"/>
<circle cx="1570.1" cy="390.9" r="11.0" fill="#00c4ff"/>
<circle cx="1571.3" cy="398.2" r="11.0" fill="#00c0ff"/>
<circle cx="1571.6" cy="976.0" r="11.0" fill="#00bcff"/>
<circle cx="1572.9" cy="998.3" r="11.0" fill="#00c0ff"/>
<circle cx="1574.0" cy="376.2" r="11.0" fill="#00c4ff"/>
<circle cx="1574.6" cy="990.9" r="11.0" fill="#00c0ff"/>
<circle cx="1575.2" cy="383.5" r="11.0" fill="#00c4ff"/>
<circle cx="1575.9" cy="1013.2" r="11.0" fill="#00c4ff"/>
<circle cx="1577.6" cy="1005.8" r="11.0" fill="#00c4ff"/>
<circle cx="1578.7" cy="361.7" r="11.0" fill="#00c4ff"/>
<circle cx="1579.2" cy="1028.0" r="11.0" fill="#00c4ff"/>
<circle cx="1579.5" cy="369.0" r="11.0" fill="#00c4ff"/>
<circle cx="1580.5" cy="1020.6" r="11.0" fill="#00c4ff"/>
<circle cx="1583.3" cy="347.3" r="11.0" fill="#00c4ff"/>
<circle cx="1583.5" cy="1042.5" r="11.0" fill="#00c4ff"/>
<circle cx="1584.2" cy="354.5" r="11.0" fill="#00c4ff"/>
<circle cx="1584.6" cy="1035.2" r="11.0" fill="#00c4ff"/>
<circle cx="1587.4" cy="332.6" r="11.0" fill="#00c8ff"/>
<circle cx="1587.9" cy="1057.0" r="11.0" fill="#00c8ff"/>
<circle cx="1588.5" cy="340.0" r="11.0" fill="#00c8ff"/>
<circle cx="1588.9" cy="1049.8" r="11.0" fill="#00c4ff"/>
<circle cx="1591.6" cy="318.0" r="11.0" fill="#00ccff"/>
<circle cx="1592.3" cy="1071.5" r="11.0" fill="#00ccff"/>
<circle cx="1592.6" cy="325.3" r="11.0" fill="#00ccff"/>
<circle cx="1593.3" cy="1064.3" r="11.0" fill="#00c8ff"/>
<circle cx="1596.0" cy="303.5" r="11.0" fill="#00ccff"/>
<circle cx="1596.2" cy="1086.2" r="11.0" fill="#00ccff"/>
<circle cx="1597.0" cy="310.8" r="11.0" fill="#00ccff"/>
<circle cx="1597.4" cy="1078.9" r="11.0" fill="#00ccff"/>
<circle cx="1600.1" cy="1100.8" r="11.0" fill="#00ccff"/>
<circle cx="1600.2" cy="288.9" r="11.0" fill="#00ccff"/>
<circle cx="1601.3" cy="1093.5" r="11.0" fill="#00ccff"/>
<circle cx="1601.4" cy="296.2" r="11.0" fill="#00ccff"/>
<circle cx="1604.2" cy="274.3" r="11.0" fill="#00ccff"/>
<circle cx="1604.2" cy="1115.4" r="11.0" fill="#00ccff"/>
<circle cx="1605.3" cy="281.6" r="11.0" fill="#00ccff"/>
<circle cx="1605.4" cy="1108.1" r="11.0" fill="#00ccff"/>
<circle cx="1608.7" cy="1129.9" r="11.0" fill="#00ccff"/>
<circle cx="1608.8" cy="259.8" r="11.0" fill="#00ccff"/>
<circle cx="1609.5" cy="1122.7" r="11.0" fill="#00ccff"/>
<circle cx="1609.7" cy="267.0" r="11.0" fill="#00ccff"/>
<circle cx="1613.6" cy="245.4" r="11.0" fill="#00ccff"/>
<circle cx="1614.3" cy="1144.0" r="11.0" fill="#00ccff"/>
<circle cx="1614.3" cy="252.6" r="11.0" fill="#00ccff"/>
<circle cx="1614.7" cy="1136.9" r="11.0" fill="#00ccff"/>
<circle cx="1618.7" cy="231.1" r="11.0" fill="#00ccff"/>
<circle cx="1619.3" cy="238.2" r="11.0" fill="#00ccff"/>
<circle cx="1619.6" cy="1158.2" r="11.0" fill="#00ccff"/>
<circle cx="1620.3" cy="1151.0" r="11.0" fill="#00ccff"/>
<circle cx="1622.9" cy="216.5" r="11.0" fill="#00ccff"/>
<circle cx="1624.1" cy="223.8" r="11.0" fill="#00ccff"/>
<circle cx="1624.6" cy="1172.5" r="11.0" fill="#00ccff"/>
<circle cx="1625.3" cy="1165.3" r="11.0" fill="#00ccff"/>
<circle cx="1627.1" cy="201.9" r="11.0" fill="#00ccff"/>
<circle cx="1628.2" cy="209.2" r="11.0" fill="#00ccff"/>
<circle cx="1629.8" cy="1186.7" r="11.0" fill="#00ccff"/>
<circle cx="1630.4" cy="1179.6" r="11.0" fill="#00ccff"/>
<circle cx="1634.9" cy="1201.0" r="11.0" fill="#00ccff"/>
<circle cx="1635.5" cy="1193.9" r="11.0" fill="#00ccff"/>
<circle cx="1522.8" cy="703.7" r="11.0" fill="#0000f1"/>
<circle cx="1523.5" cy="668.6" r="11.0" fill="#0000ff"/>
<circle cx="1523.5" cy="739.4" r="11.0" fill="#0020ff"/>
<circle cx="1524.9" cy="608.9" r="11.0" fill="#0074ff"/>
<circle cx="1524.9" cy="775.7" r="11.0" fill="#0068ff"/>
<circle cx="1529.0" cy="654.9" r="11.0" fill="#0020ff"/>
<circle cx="1529.0" cy="725.7" r="11.0" fill="#0004ff"/>
<circle cx="1530.4" cy="685.7" r="11.0" fill="#0000b6"/>
<circle cx="1530.4" cy="718.8" r="11.0" fill="#0000ff"/>
<circle cx="1531.7" cy="619.2" r="11.0" fill="#0068ff"/>
<circle cx="1531.7" cy="672.7" r="11.0" fill="#0000f1"/>
<circle cx="1531.7" cy="786.0" r="11.0" fill="#0074ff"/>
<circle cx="1533.8" cy="639.8" r="11.0" fill="#0040ff"/>
<circle cx="1533.8" cy="738.0" r="11.0" fill="#0020ff"/>
<circle cx="1533.8" cy="758.6" r="11.0" fill="#0054ff"/>
<circle cx="1537.9" cy="649.4" r="11.0" fill="#002cff"/>
<circle cx="1538.6" cy="603.4" r="11.0" fill="#0074ff"/>
<circle cx="1540.0" cy="777.1" r="11.0" fill="#0074ff"/>
<circle cx="1534.5" cy="696.0" r="11.0" fill="#000089"/>
</g>
<path d="M864.24 1270.80V1260.10 M864.24 113.90V124.60 M1126.63 1270.80V1260.10 M1126.63 113.90V124.60" stroke="#000" stroke-width="2.90" fill="none"/>
<path d="M517.39 1270.80V1264.90 M517.39 113.90V119.80 M670.87 1270.80V1264.90 M670.87 113.90V119.80 M779.77 1270.80V1264.90 M779.77 113.90V119.80 M933.26 1270.80V1264.90 M933.26 113.90V119.80 M991.61 1270.80V1264.90 M991.61 113.90V119.80 M1042.16 1270.80V1264.90 M1042.16 113.90V119.80 M1086.74 1270.80V1264.90 M1086.74 113.90V119.80 M1389.01 1270.80V1264.90 M1389.01 113.90V119.80 M1542.50 1270.80V1264.90 M1542.50 113.90V119.80" stroke="#000" stroke-width="1.70" fill="none"/>
<path d="M255.00 158.60H265.70 M1651.40 158.60H1640.70 M255.00 247.60H265.70 M1651.40 247.60H1640.70 M255.00 470.10H265.70 M1651.40 470.10H1640.70 M255.00 692.60H265.70 M1651.40 692.60H1640.70 M255.00 915.10H265.70 M1651.40 915.10H1640.70 M255.00 1137.60H265.70 M1651.40 1137.60H1640.70 M255.00 1226.60H265.70 M1651.40 1226.60H1640.70" stroke="#000" stroke-width="2.80" fill="none"/>
<path d="M253.95 113.90H1653.00" stroke="#000" stroke-width="2.0" fill="none"/>
<path d="M253.95 1270.80H1653.00" stroke="#000" stroke-width="2.0" fill="none"/>
<path d="M255.10 112.90V1271.80" stroke="#000" stroke-width="2.1" fill="none"/>
<path d="M1651.50 112.90V1271.80" stroke="#000" stroke-width="3.0" fill="none"/>
<text x="241.00" y="185.90" font-size="72.0" text-anchor="end">1.2</text>
<text x="241.00" y="274.90" font-size="72.0" text-anchor="end">1.0</text>
<text x="241.00" y="497.40" font-size="72.0" text-anchor="end">0.5</text>
<text x="241.00" y="719.90" font-size="72.0" text-anchor="end">0</text>
<text x="241.00" y="942.40" font-size="72.0" text-anchor="end">-0.5</text>
<text x="241.00" y="1164.90" font-size="72.0" text-anchor="end">-1.0</text>
<text x="241.00" y="1253.90" font-size="72.0" text-anchor="end">-1.2</text>
<text x="255.50" y="1336.60" font-size="72.0" text-anchor="middle">100</text>
<text x="864.74" y="1336.60" font-size="72.0" text-anchor="middle">500</text>
<text x="1127.13" y="1336.60" font-size="72.0" text-anchor="middle">1000</text>
<text x="1651.90" y="1336.60" font-size="72.0" text-anchor="middle">4000</text>
<text x="0" y="0" font-size="68.1" text-anchor="middle" transform="translate(81.5 697.7) rotate(-90)">a</text>
<text x="793.15" y="1416.70" font-size="68.1" class="i">M</text>
<text x="854.85" y="1428.50" font-size="47.7" class="i">V</text>
<text x="913.95" y="1416.70" font-size="68.1">[GeV]</text>
<text x="205.50" y="93.60" font-size="65.5">√</text>
<rect x="246.2" y="40.6" width="52.4" height="2.3" fill="#000"/>
<text x="255.35" y="93.60" font-size="65.5" class="i">s</text>
<text x="310.30" y="93.60" font-size="65.5">=</text>
<text x="378.65" y="93.60" font-size="65.5">100</text>
<text x="523.15" y="93.60" font-size="65.5">[TeV]</text>
<text x="699.60" y="93.60" font-size="65.5">,</text>
<text x="741.95" y="93.60" font-size="65.5" class="i">L</text>
<text x="790.30" y="93.60" font-size="65.5">=</text>
<text x="858.40" y="93.60" font-size="65.5">30</text>
<text x="942.55" y="93.60" font-size="65.5">[</text>
<text x="967.95" y="93.60" font-size="65.5" class="i">ab</text>
<text x="1054.55" y="68.70" font-size="45.85">−</text>
<text x="1093.00" y="68.70" font-size="45.85">1</text>
<text x="1122.95" y="93.60" font-size="65.5">]</text>
<text x="1150.40" y="93.60" font-size="65.5">,</text>
<text x="1193.05" y="93.60" font-size="65.5" class="i">p</text>
<text x="1239.20" y="111.10" font-size="45.85" class="i">T</text>
<text x="1249.45" y="68.70" font-size="45.85" class="i">miss</text>
<text x="1355.20" y="93.60" font-size="65.5">&gt;</text>
<text x="1423.30" y="93.60" font-size="65.5">3.5</text>
<text x="1527.35" y="93.60" font-size="65.5">[</text>
<text x="1553.80" y="93.60" font-size="65.5" class="i">TeV</text>
<text x="1679.05" y="93.60" font-size="65.5">]</text>
<defs><linearGradient id="jg" gradientUnits="userSpaceOnUse" x1="0" y1="1243.90" x2="0" y2="124.90">
<stop offset="0.0020" stop-color="#000080"/>
<stop offset="0.0137" stop-color="#00008d"/>
<stop offset="0.0254" stop-color="#00009b"/>
<stop offset="0.0371" stop-color="#0000a8"/>
<stop offset="0.0488" stop-color="#0000b6"/>
<stop offset="0.0605" stop-color="#0000c4"/>
<stop offset="0.0723" stop-color="#0000d1"/>
<stop offset="0.0840" stop-color="#0000df"/>
<stop offset="0.0957" stop-color="#0000ed"/>
<stop offset="0.1074" stop-color="#0000fa"/>
<stop offset="0.1191" stop-color="#0000ff"/>
<stop offset="0.1309" stop-color="#0004ff"/>
<stop offset="0.1426" stop-color="#0010ff"/>
<stop offset="0.1543" stop-color="#001cff"/>
<stop offset="0.1660" stop-color="#0028ff"/>
<stop offset="0.1777" stop-color="#0034ff"/>
<stop offset="0.1895" stop-color="#0040ff"/>
<stop offset="0.2012" stop-color="#004cff"/>
<stop offset="0.2129" stop-color="#0058ff"/>
<stop offset="0.2246" stop-color="#0064ff"/>
<stop offset="0.2363" stop-color="#0070ff"/>
<stop offset="0.2480" stop-color="#007cff"/>
<stop offset="0.2598" stop-color="#0088ff"/>
<stop offset="0.2715" stop-color="#0094ff"/>
<stop offset="0.2832" stop-color="#00a0ff"/>
<stop offset="0.2949" stop-color="#00acff"/>
<stop offset="0.3066" stop-color="#00b8ff"/>
<stop offset="0.3184" stop-color="#00c4ff"/>
<stop offset="0.3301" stop-color="#00d0ff"/>
<stop offset="0.3418" stop-color="#00dcfe"/>
<stop offset="0.3535" stop-color="#02e8f4"/>
<stop offset="0.3652" stop-color="#0cf4eb"/>
<stop offset="0.3770" stop-color="#16ffe1"/>
<stop offset="0.3887" stop-color="#1fffd7"/>
<stop offset="0.4004" stop-color="#29ffce"/>
<stop offset="0.4121" stop-color="#33ffc4"/>
<stop offset="0.4238" stop-color="#3cffba"/>
<stop offset="0.4355" stop-color="#46ffb1"/>
<stop offset="0.4473" stop-color="#50ffa7"/>
<stop offset="0.4590" stop-color="#5aff9d"/>
<stop offset="0.4707" stop-color="#63ff94"/>
<stop offset="0.4824" stop-color="#6dff8a"/>
<stop offset="0.4941" stop-color="#77ff80"/>
<stop offset="0.5059" stop-color="#80ff77"/>
<stop offset="0.5176" stop-color="#8aff6d"/>
<stop offset="0.5293" stop-color="#94ff63"/>
<stop offset="0.5410" stop-color="#9dff5a"/>
<stop offset="0.5527" stop-color="#a7ff50"/>
<stop offset="0.5645" stop-color="#b1ff46"/>
<stop offset="0.5762" stop-color="#baff3c"/>
<stop offset="0.5879" stop-color="#c4ff33"/>
<stop offset="0.5996" stop-color="#ceff29"/>
<stop offset="0.6113" stop-color="#d7ff1f"/>
<stop offset="0.6230" stop-color="#e1ff16"/>
<stop offset="0.6348" stop-color="#ebff0c"/>
<stop offset="0.6465" stop-color="#f4f802"/>
<stop offset="0.6582" stop-color="#feed00"/>
<stop offset="0.6699" stop-color="#ffe200"/>
<stop offset="0.6816" stop-color="#ffd700"/>
<stop offset="0.6934" stop-color="#ffcc00"/>
<stop offset="0.7051" stop-color="#ffc100"/>
<stop offset="0.7168" stop-color="#ffb600"/>
<stop offset="0.7285" stop-color="#ffab00"/>
<stop offset="0.7402" stop-color="#ff9f00"/>
<stop offset="0.7520" stop-color="#ff9400"/>
<stop offset="0.7637" stop-color="#ff8900"/>
<stop offset="0.7754" stop-color="#ff7e00"/>
<stop offset="0.7871" stop-color="#ff7300"/>
<stop offset="0.7988" stop-color="#ff6800"/>
<stop offset="0.8105" stop-color="#ff5d00"/>
<stop offset="0.8223" stop-color="#ff5200"/>
<stop offset="0.8340" stop-color="#ff4700"/>
<stop offset="0.8457" stop-color="#ff3b00"/>
<stop offset="0.8574" stop-color="#ff3000"/>
<stop offset="0.8691" stop-color="#ff2500"/>
<stop offset="0.8809" stop-color="#ff1a00"/>
<stop offset="0.8926" stop-color="#fa0f00"/>
<stop offset="0.9043" stop-color="#ed0400"/>
<stop offset="0.9160" stop-color="#df0000"/>
<stop offset="0.9277" stop-color="#d10000"/>
<stop offset="0.9395" stop-color="#c40000"/>
<stop offset="0.9512" stop-color="#b60000"/>
<stop offset="0.9629" stop-color="#a80000"/>
<stop offset="0.9746" stop-color="#9b0000"/>
<stop offset="0.9863" stop-color="#8d0000"/>
<stop offset="0.9980" stop-color="#800000"/>
</linearGradient></defs>
<rect x="1745.90" y="124.90" width="61.40" height="1119.00" fill="url(#jg)"/>
<path d="M1745.90 125.40L1776.60 68.20L1807.30 125.40Z" fill="#800000"/>
<path d="M1745.90 1243.40L1776.60 1299.60L1807.30 1243.40Z" fill="#000080"/>
<path d="M1745.90 124.90L1776.60 68.20L1807.30 124.90L1807.30 1243.90L1776.60 1299.60L1745.90 1243.90Z" fill="none" stroke="#000" stroke-width="1.7" stroke-linejoin="miter"/>
<path d="M1807.30 124.90H1818.30 M1807.30 236.80H1818.30 M1807.30 348.70H1818.30 M1807.30 460.60H1818.30 M1807.30 572.50H1818.30 M1807.30 684.40H1818.30 M1807.30 796.30H1818.30 M1807.30 908.20H1818.30 M1807.30 1020.10H1818.30 M1807.30 1132.00H1818.30 M1807.30 1243.90H1818.30" stroke="#000" stroke-width="2.8" fill="none"/>
<text x="1829.25" y="148.70" font-size="65.5">10</text>
<text x="1913.10" y="123.20" font-size="45.85">0</text>
<text x="1829.25" y="260.60" font-size="65.5">10</text>
<text x="1912.15" y="235.10" font-size="45.85">−</text>
<text x="1950.60" y="235.10" font-size="45.85">1</text>
<text x="1829.25" y="372.50" font-size="65.5">10</text>
<text x="1912.15" y="347.00" font-size="45.85">−</text>
<text x="1952.35" y="347.00" font-size="45.85">2</text>
<text x="1829.25" y="484.40" font-size="65.5">10</text>
<text x="1912.15" y="458.90" font-size="45.85">−</text>
<text x="1952.40" y="458.90" font-size="45.85">3</text>
<text x="1829.25" y="596.30" font-size="65.5">10</text>
<text x="1912.15" y="570.80" font-size="45.85">−</text>
<text x="1952.40" y="570.80" font-size="45.85">4</text>
<text x="1829.25" y="708.20" font-size="65.5">10</text>
<text x="1912.15" y="682.70" font-size="45.85">−</text>
<text x="1952.40" y="682.70" font-size="45.85">5</text>
<text x="1829.25" y="820.10" font-size="65.5">10</text>
<text x="1912.15" y="794.60" font-size="45.85">−</text>
<text x="1952.40" y="794.60" font-size="45.85">6</text>
<text x="1829.25" y="932.00" font-size="65.5">10</text>
<text x="1912.15" y="906.50" font-size="45.85">−</text>
<text x="1952.40" y="906.50" font-size="45.85">7</text>
<text x="1829.25" y="1043.90" font-size="65.5">10</text>
<text x="1912.15" y="1018.40" font-size="45.85">−</text>
<text x="1952.40" y="1018.40" font-size="45.85">8</text>
<text x="1829.25" y="1155.80" font-size="65.5">10</text>
<text x="1912.15" y="1130.30" font-size="45.85">−</text>
<text x="1952.40" y="1130.30" font-size="45.85">9</text>
<text x="1829.25" y="1267.70" font-size="65.5">10</text>
<text x="1912.15" y="1242.20" font-size="45.85">−</text>
<text x="1950.60" y="1242.20" font-size="45.85">10</text>
<text x="0" y="0" font-size="65.5" text-anchor="middle" transform="translate(2072.7 690) rotate(-90)">Significance</text>
</svg></body></html>
